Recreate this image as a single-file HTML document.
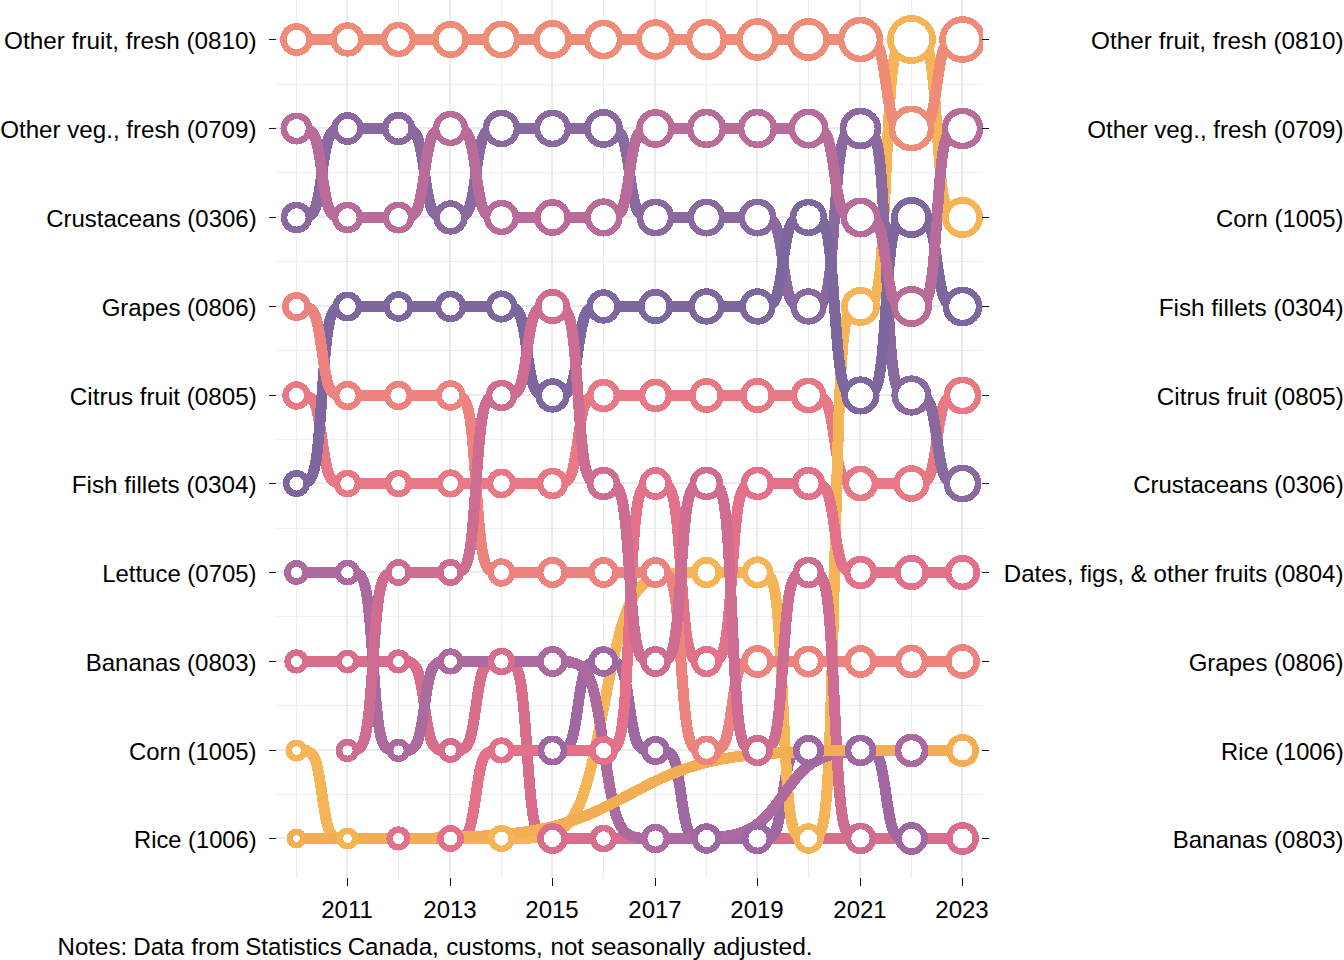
<!DOCTYPE html>
<html><head><meta charset="utf-8"><title>Bump chart</title>
<style>
html,body{margin:0;padding:0;background:#fff;}
body{width:1344px;height:960px;overflow:hidden;position:relative;font-family:"Liberation Sans",sans-serif;}
</style></head><body>
<svg width="1344" height="960" viewBox="0 0 1344 960" style="position:absolute;left:0;top:0">
<defs><clipPath id="pc"><rect x="276" y="0" width="707" height="877.7"/></clipPath></defs>
<g shape-rendering="crispEdges" fill="#ebebeb" stroke="none">
<rect x="276" y="84" width="707" height="1" fill="#eeeeee"/>
<rect x="276" y="172" width="707" height="1" fill="#eeeeee"/>
<rect x="276" y="261" width="707" height="1" fill="#eeeeee"/>
<rect x="276" y="350" width="707" height="1" fill="#eeeeee"/>
<rect x="276" y="439" width="707" height="1" fill="#eeeeee"/>
<rect x="276" y="528" width="707" height="1" fill="#eeeeee"/>
<rect x="276" y="616" width="707" height="1" fill="#eeeeee"/>
<rect x="276" y="705" width="707" height="1" fill="#eeeeee"/>
<rect x="276" y="794" width="707" height="1" fill="#eeeeee"/>
<rect x="296" y="0" width="1" height="877.7" fill="#eeeeee"/>
<rect x="398" y="0" width="1" height="877.7" fill="#eeeeee"/>
<rect x="501" y="0" width="1" height="877.7" fill="#eeeeee"/>
<rect x="603" y="0" width="1" height="877.7" fill="#eeeeee"/>
<rect x="706" y="0" width="1" height="877.7" fill="#eeeeee"/>
<rect x="808" y="0" width="1" height="877.7" fill="#eeeeee"/>
<rect x="911" y="0" width="1" height="877.7" fill="#eeeeee"/>
<rect x="276" y="38" width="707" height="2"/>
<rect x="276" y="127" width="707" height="2"/>
<rect x="276" y="216" width="707" height="2"/>
<rect x="276" y="305" width="707" height="2"/>
<rect x="276" y="394" width="707" height="2"/>
<rect x="276" y="482" width="707" height="2"/>
<rect x="276" y="571" width="707" height="2"/>
<rect x="276" y="660" width="707" height="2"/>
<rect x="276" y="749" width="707" height="2"/>
<rect x="276" y="837" width="707" height="2"/>
<rect x="346" y="0" width="2" height="877.7"/>
<rect x="449" y="0" width="2" height="877.7"/>
<rect x="551" y="0" width="2" height="877.7"/>
<rect x="654" y="0" width="2" height="877.7"/>
<rect x="756" y="0" width="2" height="877.7"/>
<rect x="859" y="0" width="2" height="877.7"/>
<rect x="961" y="0" width="2" height="877.7"/>
</g>
<g clip-path="url(#pc)" shape-rendering="crispEdges" fill="none" stroke-width="11" stroke-linejoin="round" stroke-linecap="butt">
<path stroke="#D96E8C" d="M296.50 661.50 L347.50 661.50 L398.50 661.50 L399.03 661.50 L399.55 661.50 L400.08 661.50 L400.60 661.50 L401.13 661.50 L401.65 661.50 L402.18 661.50 L402.70 661.50 L403.23 661.50 L403.75 661.50 L404.28 661.50 L404.80 661.50 L405.33 661.50 L405.85 661.50 L406.38 661.50 L406.90 661.50 L407.43 661.50 L407.95 661.50 L408.48 661.50 L409.01 661.50 L409.53 662.38 L410.06 662.53 L410.58 662.71 L411.11 662.92 L411.63 663.17 L412.16 663.45 L412.68 663.78 L413.21 664.17 L413.73 664.63 L414.26 665.15 L414.78 665.76 L415.31 666.47 L415.83 667.28 L416.36 668.22 L416.88 669.30 L417.41 670.52 L417.93 671.92 L418.46 673.50 L418.98 675.28 L419.51 677.27 L420.04 679.48 L420.56 681.91 L421.09 684.56 L421.61 687.43 L422.14 690.50 L422.66 693.74 L423.19 697.13 L423.71 700.63 L424.24 704.20 L424.76 707.80 L425.29 711.37 L425.81 714.87 L426.34 718.26 L426.86 721.50 L427.39 724.57 L427.91 727.44 L428.44 730.09 L428.96 732.52 L429.49 734.73 L430.02 736.72 L430.54 738.50 L431.07 740.08 L431.59 741.48 L432.12 742.70 L432.64 743.78 L433.17 744.72 L433.69 745.53 L434.22 746.24 L434.74 746.85 L435.27 747.37 L435.79 747.83 L436.32 748.22 L436.84 748.55 L437.37 748.83 L437.89 749.08 L438.42 749.29 L438.94 749.47 L439.47 749.62 L439.99 750.50 L440.52 750.50 L441.05 750.50 L441.57 750.50 L442.10 750.50 L442.62 750.50 L443.15 750.50 L443.67 750.50 L444.20 750.50 L444.72 750.50 L445.25 750.50 L445.77 750.50 L446.30 750.50 L446.82 750.50 L447.35 750.50 L447.87 750.50 L448.40 750.50 L448.92 750.50 L449.45 750.50 L449.97 750.50 L450.50 750.50 L451.02 750.50 L451.53 750.50 L452.05 750.50 L452.56 750.50 L453.08 750.50 L453.59 750.50 L454.11 750.50 L454.62 750.50 L455.14 750.50 L455.65 750.50 L456.17 750.50 L456.68 750.50 L457.20 750.50 L457.71 750.50 L458.23 750.50 L458.74 750.50 L459.26 750.50 L459.77 750.50 L460.29 750.50 L460.80 750.50 L461.32 749.62 L461.83 749.47 L462.35 749.29 L462.86 749.08 L463.38 748.83 L463.89 748.55 L464.41 748.22 L464.92 747.83 L465.44 747.37 L465.95 746.85 L466.47 746.24 L466.98 745.53 L467.50 744.72 L468.02 743.78 L468.53 742.70 L469.05 741.48 L469.56 740.08 L470.08 738.50 L470.59 736.72 L471.11 734.73 L471.62 732.52 L472.14 730.09 L472.65 727.44 L473.17 724.57 L473.68 721.50 L474.20 718.26 L474.71 714.87 L475.23 711.37 L475.74 707.80 L476.26 704.20 L476.77 700.63 L477.29 697.13 L477.80 693.74 L478.32 690.50 L478.83 687.43 L479.35 684.56 L479.86 681.91 L480.38 679.48 L480.89 677.27 L481.41 675.28 L481.92 673.50 L482.44 671.92 L482.95 670.52 L483.47 669.30 L483.98 668.22 L484.50 667.28 L485.02 666.47 L485.53 665.76 L486.05 665.15 L486.56 664.63 L487.08 664.17 L487.59 663.78 L488.11 663.45 L488.62 663.17 L489.14 662.92 L489.65 662.71 L490.17 662.53 L490.68 662.38 L491.20 661.50 L491.71 661.50 L492.23 661.50 L492.74 661.50 L493.26 661.50 L493.77 661.50 L494.29 661.50 L494.80 661.50 L495.32 661.50 L495.83 661.50 L496.35 661.50 L496.86 661.50 L497.38 661.50 L497.89 661.50 L498.41 661.50 L498.92 661.50 L499.44 661.50 L499.95 661.50 L500.47 661.50 L500.98 661.50 L501.50 661.50 L502.02 661.50 L502.53 661.50 L503.05 661.50 L503.56 661.50 L504.08 661.50 L504.59 661.50 L505.11 661.50 L505.62 661.50 L506.14 661.50 L506.65 661.50 L507.17 661.50 L507.68 661.50 L508.20 661.50 L508.71 661.50 L509.23 661.50 L509.74 661.50 L510.26 662.42 L510.77 662.58 L511.29 662.77 L511.80 662.99 L512.32 663.25 L512.83 663.55 L513.35 663.91 L513.86 664.33 L514.38 664.81 L514.89 665.38 L515.41 666.04 L515.92 666.82 L516.44 667.72 L516.95 668.76 L517.47 669.98 L517.98 671.38 L518.50 673.00 L519.02 674.86 L519.53 677.00 L520.05 679.45 L520.56 682.23 L521.08 685.37 L521.59 688.91 L522.11 692.87 L522.62 697.26 L523.14 702.09 L523.65 707.37 L524.17 713.07 L524.68 719.17 L525.20 725.62 L525.71 732.36 L526.23 739.32 L526.74 746.43 L527.26 753.57 L527.77 760.68 L528.29 767.64 L528.80 774.38 L529.32 780.83 L529.83 786.93 L530.35 792.63 L530.86 797.91 L531.38 802.74 L531.89 807.13 L532.41 811.09 L532.92 814.63 L533.44 817.77 L533.95 820.55 L534.47 823.00 L534.98 825.14 L535.50 827.00 L536.02 828.62 L536.53 830.02 L537.05 831.24 L537.56 832.28 L538.08 833.18 L538.59 833.96 L539.11 834.62 L539.62 835.19 L540.14 835.67 L540.65 836.09 L541.17 836.45 L541.68 836.75 L542.20 837.01 L542.71 837.23 L543.23 837.42 L543.74 837.58 L544.26 838.50 L544.77 838.50 L545.29 838.50 L545.80 838.50 L546.32 838.50 L546.83 838.50 L547.35 838.50 L547.86 838.50 L548.38 838.50 L548.89 838.50 L549.41 838.50 L549.92 838.50 L550.44 838.50 L550.95 838.50 L551.47 838.50 L551.98 838.50 L552.50 838.50 L603.50 838.50 L962.50 838.50"/>
<path stroke="#A068A2" d="M552.50 750.50 L553.02 750.50 L553.53 750.50 L554.05 750.50 L554.56 750.50 L555.08 750.50 L555.59 750.50 L556.11 750.50 L556.62 750.50 L557.14 750.50 L557.65 750.50 L558.17 750.50 L558.68 750.50 L559.20 750.50 L559.71 750.50 L560.23 750.50 L560.74 750.50 L561.26 750.50 L561.77 750.50 L562.29 750.50 L562.80 750.50 L563.32 749.62 L563.83 749.47 L564.35 749.29 L564.86 749.08 L565.38 748.83 L565.89 748.55 L566.41 748.22 L566.92 747.83 L567.44 747.37 L567.95 746.85 L568.47 746.24 L568.98 745.53 L569.50 744.72 L570.02 743.78 L570.53 742.70 L571.05 741.48 L571.56 740.08 L572.08 738.50 L572.59 736.72 L573.11 734.73 L573.62 732.52 L574.14 730.09 L574.65 727.44 L575.17 724.57 L575.68 721.50 L576.20 718.26 L576.71 714.87 L577.23 711.37 L577.74 707.80 L578.26 704.20 L578.77 700.63 L579.29 697.13 L579.80 693.74 L580.32 690.50 L580.83 687.43 L581.35 684.56 L581.86 681.91 L582.38 679.48 L582.89 677.27 L583.41 675.28 L583.92 673.50 L584.44 671.92 L584.95 670.52 L585.47 669.30 L585.98 668.22 L586.50 667.28 L587.02 666.47 L587.53 665.76 L588.05 665.15 L588.56 664.63 L589.08 664.17 L589.59 663.78 L590.11 663.45 L590.62 663.17 L591.14 662.92 L591.65 662.71 L592.17 662.53 L592.68 662.38 L593.20 661.50 L593.71 661.50 L594.23 661.50 L594.74 661.50 L595.26 661.50 L595.77 661.50 L596.29 661.50 L596.80 661.50 L597.32 661.50 L597.83 661.50 L598.35 661.50 L598.86 661.50 L599.38 661.50 L599.89 661.50 L600.41 661.50 L600.92 661.50 L601.44 661.50 L601.95 661.50 L602.47 661.50 L602.98 661.50 L603.50 661.50 L604.03 661.50 L604.55 661.50 L605.08 661.50 L605.60 661.50 L606.13 661.50 L606.65 661.50 L607.18 661.50 L607.70 661.50 L608.23 661.50 L608.75 661.50 L609.28 661.50 L609.80 661.50 L610.33 661.50 L610.85 661.50 L611.38 661.50 L611.90 661.50 L612.43 661.50 L612.95 661.50 L613.48 661.50 L614.01 661.50 L614.53 662.38 L615.06 662.53 L615.58 662.71 L616.11 662.92 L616.63 663.17 L617.16 663.45 L617.68 663.78 L618.21 664.17 L618.73 664.63 L619.26 665.15 L619.78 665.76 L620.31 666.47 L620.83 667.28 L621.36 668.22 L621.88 669.30 L622.41 670.52 L622.93 671.92 L623.46 673.50 L623.98 675.28 L624.51 677.27 L625.04 679.48 L625.56 681.91 L626.09 684.56 L626.61 687.43 L627.14 690.50 L627.66 693.74 L628.19 697.13 L628.71 700.63 L629.24 704.20 L629.76 707.80 L630.29 711.37 L630.81 714.87 L631.34 718.26 L631.86 721.50 L632.39 724.57 L632.91 727.44 L633.44 730.09 L633.96 732.52 L634.49 734.73 L635.02 736.72 L635.54 738.50 L636.07 740.08 L636.59 741.48 L637.12 742.70 L637.64 743.78 L638.17 744.72 L638.69 745.53 L639.22 746.24 L639.74 746.85 L640.27 747.37 L640.79 747.83 L641.32 748.22 L641.84 748.55 L642.37 748.83 L642.89 749.08 L643.42 749.29 L643.94 749.47 L644.47 749.62 L644.99 750.50 L645.52 750.50 L646.05 750.50 L646.57 750.50 L647.10 750.50 L647.62 750.50 L648.15 750.50 L648.67 750.50 L649.20 750.50 L649.72 750.50 L650.25 750.50 L650.77 750.50 L651.30 750.50 L651.82 750.50 L652.35 750.50 L652.87 750.50 L653.40 750.50 L653.92 750.50 L654.45 750.50 L654.97 750.50 L655.50 750.50 L656.02 750.50 L656.53 750.50 L657.05 750.50 L657.56 750.50 L658.08 750.50 L658.59 750.50 L659.11 750.50 L659.62 750.50 L660.14 750.50 L660.65 750.50 L661.17 750.50 L661.68 750.50 L662.20 750.50 L662.71 750.50 L663.23 750.50 L663.74 750.50 L664.26 750.50 L664.77 750.50 L665.29 750.50 L665.80 750.50 L666.32 751.37 L666.83 751.52 L667.35 751.70 L667.86 751.90 L668.38 752.15 L668.89 752.43 L669.41 752.76 L669.92 753.14 L670.44 753.59 L670.95 754.11 L671.47 754.71 L671.98 755.41 L672.50 756.22 L673.02 757.14 L673.53 758.21 L674.05 759.42 L674.56 760.80 L675.08 762.37 L675.59 764.13 L676.11 766.09 L676.62 768.28 L677.14 770.68 L677.65 773.30 L678.17 776.14 L678.68 779.17 L679.20 782.38 L679.71 785.73 L680.23 789.19 L680.74 792.72 L681.26 796.28 L681.77 799.81 L682.29 803.27 L682.80 806.62 L683.32 809.83 L683.83 812.86 L684.35 815.70 L684.86 818.32 L685.38 820.72 L685.89 822.91 L686.41 824.87 L686.92 826.63 L687.44 828.20 L687.95 829.58 L688.47 830.79 L688.98 831.86 L689.50 832.78 L690.02 833.59 L690.53 834.29 L691.05 834.89 L691.56 835.41 L692.08 835.86 L692.59 836.24 L693.11 836.57 L693.62 836.85 L694.14 837.10 L694.65 837.30 L695.17 837.48 L695.68 837.63 L696.20 838.50 L696.71 838.50 L697.23 838.50 L697.74 838.50 L698.26 838.50 L698.77 838.50 L699.29 838.50 L699.80 838.50 L700.32 838.50 L700.83 838.50 L701.35 838.50 L701.86 838.50 L702.38 838.50 L702.89 838.50 L703.41 838.50 L703.92 838.50 L704.44 838.50 L704.95 838.50 L705.47 838.50 L705.98 838.50 L706.50 838.50 L757.50 838.50 L758.02 838.50 L758.53 838.50 L759.05 838.50 L759.56 838.50 L760.08 838.50 L760.59 838.50 L761.11 838.50 L761.62 838.50 L762.14 838.50 L762.65 838.50 L763.17 838.50 L763.68 838.50 L764.20 838.50 L764.71 838.50 L765.23 838.50 L765.74 838.50 L766.26 838.50 L766.77 838.50 L767.29 838.50 L767.80 838.50 L768.32 837.63 L768.83 837.48 L769.35 837.30 L769.86 837.10 L770.38 836.85 L770.89 836.57 L771.41 836.24 L771.92 835.86 L772.44 835.41 L772.95 834.89 L773.47 834.29 L773.98 833.59 L774.50 832.78 L775.02 831.86 L775.53 830.79 L776.05 829.58 L776.56 828.20 L777.08 826.63 L777.59 824.87 L778.11 822.91 L778.62 820.72 L779.14 818.32 L779.65 815.70 L780.17 812.86 L780.68 809.83 L781.20 806.62 L781.71 803.27 L782.23 799.81 L782.74 796.28 L783.26 792.72 L783.77 789.19 L784.29 785.73 L784.80 782.38 L785.32 779.17 L785.83 776.14 L786.35 773.30 L786.86 770.68 L787.38 768.28 L787.89 766.09 L788.41 764.13 L788.92 762.37 L789.44 760.80 L789.95 759.42 L790.47 758.21 L790.98 757.14 L791.50 756.22 L792.02 755.41 L792.53 754.71 L793.05 754.11 L793.56 753.59 L794.08 753.14 L794.59 752.76 L795.11 752.43 L795.62 752.15 L796.14 751.90 L796.65 751.70 L797.17 751.52 L797.68 751.37 L798.20 750.50 L798.71 750.50 L799.23 750.50 L799.74 750.50 L800.26 750.50 L800.77 750.50 L801.29 750.50 L801.80 750.50 L802.32 750.50 L802.83 750.50 L803.35 750.50 L803.86 750.50 L804.38 750.50 L804.89 750.50 L805.41 750.50 L805.92 750.50 L806.44 750.50 L806.95 750.50 L807.47 750.50 L807.98 750.50 L808.50 750.50 L860.50 750.50 L861.02 750.50 L861.53 750.50 L862.05 750.50 L862.56 750.50 L863.08 750.50 L863.59 750.50 L864.11 750.50 L864.62 750.50 L865.14 750.50 L865.65 750.50 L866.17 750.50 L866.68 750.50 L867.20 750.50 L867.71 750.50 L868.23 750.50 L868.74 750.50 L869.26 750.50 L869.77 750.50 L870.29 750.50 L870.80 750.50 L871.32 751.37 L871.83 751.52 L872.35 751.70 L872.86 751.90 L873.38 752.15 L873.89 752.43 L874.41 752.76 L874.92 753.14 L875.44 753.59 L875.95 754.11 L876.47 754.71 L876.98 755.41 L877.50 756.22 L878.02 757.14 L878.53 758.21 L879.05 759.42 L879.56 760.80 L880.08 762.37 L880.59 764.13 L881.11 766.09 L881.62 768.28 L882.14 770.68 L882.65 773.30 L883.17 776.14 L883.68 779.17 L884.20 782.38 L884.71 785.73 L885.23 789.19 L885.74 792.72 L886.26 796.28 L886.77 799.81 L887.29 803.27 L887.80 806.62 L888.32 809.83 L888.83 812.86 L889.35 815.70 L889.86 818.32 L890.38 820.72 L890.89 822.91 L891.41 824.87 L891.92 826.63 L892.44 828.20 L892.95 829.58 L893.47 830.79 L893.98 831.86 L894.50 832.78 L895.02 833.59 L895.53 834.29 L896.05 834.89 L896.56 835.41 L897.08 835.86 L897.59 836.24 L898.11 836.57 L898.62 836.85 L899.14 837.10 L899.65 837.30 L900.17 837.48 L900.68 837.63 L901.20 838.50 L901.71 838.50 L902.23 838.50 L902.74 838.50 L903.26 838.50 L903.77 838.50 L904.29 838.50 L904.80 838.50 L905.32 838.50 L905.83 838.50 L906.35 838.50 L906.86 838.50 L907.38 838.50 L907.89 838.50 L908.41 838.50 L908.92 838.50 L909.44 838.50 L909.95 838.50 L910.47 838.50 L910.98 838.50 L911.50 838.50"/>
<path stroke="#E87884" d="M296.50 395.50 L297.02 395.50 L297.53 395.50 L298.05 395.50 L298.56 395.50 L299.08 395.50 L299.59 395.50 L300.11 395.50 L300.62 395.50 L301.14 395.50 L301.65 395.50 L302.17 395.50 L302.68 395.50 L303.20 395.50 L303.71 395.50 L304.23 395.50 L304.74 395.50 L305.26 395.50 L305.77 395.50 L306.29 395.50 L306.80 395.50 L307.32 396.37 L307.83 396.52 L308.35 396.70 L308.86 396.90 L309.38 397.15 L309.89 397.43 L310.41 397.76 L310.92 398.14 L311.44 398.59 L311.95 399.11 L312.47 399.71 L312.98 400.41 L313.50 401.22 L314.02 402.14 L314.53 403.21 L315.05 404.42 L315.56 405.80 L316.08 407.37 L316.59 409.13 L317.11 411.09 L317.62 413.28 L318.14 415.68 L318.65 418.30 L319.17 421.14 L319.68 424.17 L320.20 427.38 L320.71 430.73 L321.23 434.19 L321.74 437.72 L322.26 441.28 L322.77 444.81 L323.29 448.27 L323.80 451.62 L324.32 454.83 L324.83 457.86 L325.35 460.70 L325.86 463.32 L326.38 465.72 L326.89 467.91 L327.41 469.87 L327.92 471.63 L328.44 473.20 L328.95 474.58 L329.47 475.79 L329.98 476.86 L330.50 477.78 L331.02 478.59 L331.53 479.29 L332.05 479.89 L332.56 480.41 L333.08 480.86 L333.59 481.24 L334.11 481.57 L334.62 481.85 L335.14 482.10 L335.65 482.30 L336.17 482.48 L336.68 482.63 L337.20 483.50 L337.71 483.50 L338.23 483.50 L338.74 483.50 L339.26 483.50 L339.77 483.50 L340.29 483.50 L340.80 483.50 L341.32 483.50 L341.83 483.50 L342.35 483.50 L342.86 483.50 L343.38 483.50 L343.89 483.50 L344.41 483.50 L344.92 483.50 L345.44 483.50 L345.95 483.50 L346.47 483.50 L346.98 483.50 L347.50 483.50 L398.50 483.50 L450.50 483.50 L501.50 483.50 L552.50 483.50 L553.02 483.50 L553.53 483.50 L554.05 483.50 L554.56 483.50 L555.08 483.50 L555.59 483.50 L556.11 483.50 L556.62 483.50 L557.14 483.50 L557.65 483.50 L558.17 483.50 L558.68 483.50 L559.20 483.50 L559.71 483.50 L560.23 483.50 L560.74 483.50 L561.26 483.50 L561.77 483.50 L562.29 483.50 L562.80 483.50 L563.32 482.63 L563.83 482.48 L564.35 482.30 L564.86 482.10 L565.38 481.85 L565.89 481.57 L566.41 481.24 L566.92 480.86 L567.44 480.41 L567.95 479.89 L568.47 479.29 L568.98 478.59 L569.50 477.78 L570.02 476.86 L570.53 475.79 L571.05 474.58 L571.56 473.20 L572.08 471.63 L572.59 469.87 L573.11 467.91 L573.62 465.72 L574.14 463.32 L574.65 460.70 L575.17 457.86 L575.68 454.83 L576.20 451.62 L576.71 448.27 L577.23 444.81 L577.74 441.28 L578.26 437.72 L578.77 434.19 L579.29 430.73 L579.80 427.38 L580.32 424.17 L580.83 421.14 L581.35 418.30 L581.86 415.68 L582.38 413.28 L582.89 411.09 L583.41 409.13 L583.92 407.37 L584.44 405.80 L584.95 404.42 L585.47 403.21 L585.98 402.14 L586.50 401.22 L587.02 400.41 L587.53 399.71 L588.05 399.11 L588.56 398.59 L589.08 398.14 L589.59 397.76 L590.11 397.43 L590.62 397.15 L591.14 396.90 L591.65 396.70 L592.17 396.52 L592.68 396.37 L593.20 395.50 L593.71 395.50 L594.23 395.50 L594.74 395.50 L595.26 395.50 L595.77 395.50 L596.29 395.50 L596.80 395.50 L597.32 395.50 L597.83 395.50 L598.35 395.50 L598.86 395.50 L599.38 395.50 L599.89 395.50 L600.41 395.50 L600.92 395.50 L601.44 395.50 L601.95 395.50 L602.47 395.50 L602.98 395.50 L603.50 395.50 L655.50 395.50 L706.50 395.50 L757.50 395.50 L808.50 395.50 L809.03 395.50 L809.55 395.50 L810.08 395.50 L810.60 395.50 L811.13 395.50 L811.65 395.50 L812.18 395.50 L812.70 395.50 L813.23 395.50 L813.75 395.50 L814.28 395.50 L814.80 395.50 L815.33 395.50 L815.85 395.50 L816.38 395.50 L816.90 395.50 L817.43 395.50 L817.95 395.50 L818.48 395.50 L819.01 395.50 L819.53 396.37 L820.06 396.52 L820.58 396.70 L821.11 396.90 L821.63 397.15 L822.16 397.43 L822.68 397.76 L823.21 398.14 L823.73 398.59 L824.26 399.11 L824.78 399.71 L825.31 400.41 L825.83 401.22 L826.36 402.14 L826.88 403.21 L827.41 404.42 L827.93 405.80 L828.46 407.37 L828.98 409.13 L829.51 411.09 L830.04 413.28 L830.56 415.68 L831.09 418.30 L831.61 421.14 L832.14 424.17 L832.66 427.38 L833.19 430.73 L833.71 434.19 L834.24 437.72 L834.76 441.28 L835.29 444.81 L835.81 448.27 L836.34 451.62 L836.86 454.83 L837.39 457.86 L837.91 460.70 L838.44 463.32 L838.96 465.72 L839.49 467.91 L840.02 469.87 L840.54 471.63 L841.07 473.20 L841.59 474.58 L842.12 475.79 L842.64 476.86 L843.17 477.78 L843.69 478.59 L844.22 479.29 L844.74 479.89 L845.27 480.41 L845.79 480.86 L846.32 481.24 L846.84 481.57 L847.37 481.85 L847.89 482.10 L848.42 482.30 L848.94 482.48 L849.47 482.63 L849.99 483.50 L850.52 483.50 L851.05 483.50 L851.57 483.50 L852.10 483.50 L852.62 483.50 L853.15 483.50 L853.67 483.50 L854.20 483.50 L854.72 483.50 L855.25 483.50 L855.77 483.50 L856.30 483.50 L856.82 483.50 L857.35 483.50 L857.87 483.50 L858.40 483.50 L858.92 483.50 L859.45 483.50 L859.97 483.50 L860.50 483.50 L911.50 483.50 L912.02 483.50 L912.53 483.50 L913.05 483.50 L913.56 483.50 L914.08 483.50 L914.59 483.50 L915.11 483.50 L915.62 483.50 L916.14 483.50 L916.65 483.50 L917.17 483.50 L917.68 483.50 L918.20 483.50 L918.71 483.50 L919.23 483.50 L919.74 483.50 L920.26 483.50 L920.77 483.50 L921.29 483.50 L921.80 483.50 L922.32 482.63 L922.83 482.48 L923.35 482.30 L923.86 482.10 L924.38 481.85 L924.89 481.57 L925.41 481.24 L925.92 480.86 L926.44 480.41 L926.95 479.89 L927.47 479.29 L927.98 478.59 L928.50 477.78 L929.02 476.86 L929.53 475.79 L930.05 474.58 L930.56 473.20 L931.08 471.63 L931.59 469.87 L932.11 467.91 L932.62 465.72 L933.14 463.32 L933.65 460.70 L934.17 457.86 L934.68 454.83 L935.20 451.62 L935.71 448.27 L936.23 444.81 L936.74 441.28 L937.26 437.72 L937.77 434.19 L938.29 430.73 L938.80 427.38 L939.32 424.17 L939.83 421.14 L940.35 418.30 L940.86 415.68 L941.38 413.28 L941.89 411.09 L942.41 409.13 L942.92 407.37 L943.44 405.80 L943.95 404.42 L944.47 403.21 L944.98 402.14 L945.50 401.22 L946.02 400.41 L946.53 399.71 L947.05 399.11 L947.56 398.59 L948.08 398.14 L948.59 397.76 L949.11 397.43 L949.62 397.15 L950.14 396.90 L950.65 396.70 L951.17 396.52 L951.68 396.37 L952.20 395.50 L952.71 395.50 L953.23 395.50 L953.74 395.50 L954.26 395.50 L954.77 395.50 L955.29 395.50 L955.80 395.50 L956.32 395.50 L956.83 395.50 L957.35 395.50 L957.86 395.50 L958.38 395.50 L958.89 395.50 L959.41 395.50 L959.92 395.50 L960.44 395.50 L960.95 395.50 L961.47 395.50 L961.98 395.50 L962.50 395.50"/>
<path stroke="#F5B455" d="M296.50 750.50 L297.02 750.50 L297.53 750.50 L298.05 750.50 L298.56 750.50 L299.08 750.50 L299.59 750.50 L300.11 750.50 L300.62 750.50 L301.14 750.50 L301.65 750.50 L302.17 750.50 L302.68 750.50 L303.20 750.50 L303.71 750.50 L304.23 750.50 L304.74 750.50 L305.26 750.50 L305.77 750.50 L306.29 750.50 L306.80 750.50 L307.32 751.37 L307.83 751.52 L308.35 751.70 L308.86 751.90 L309.38 752.15 L309.89 752.43 L310.41 752.76 L310.92 753.14 L311.44 753.59 L311.95 754.11 L312.47 754.71 L312.98 755.41 L313.50 756.22 L314.02 757.14 L314.53 758.21 L315.05 759.42 L315.56 760.80 L316.08 762.37 L316.59 764.13 L317.11 766.09 L317.62 768.28 L318.14 770.68 L318.65 773.30 L319.17 776.14 L319.68 779.17 L320.20 782.38 L320.71 785.73 L321.23 789.19 L321.74 792.72 L322.26 796.28 L322.77 799.81 L323.29 803.27 L323.80 806.62 L324.32 809.83 L324.83 812.86 L325.35 815.70 L325.86 818.32 L326.38 820.72 L326.89 822.91 L327.41 824.87 L327.92 826.63 L328.44 828.20 L328.95 829.58 L329.47 830.79 L329.98 831.86 L330.50 832.78 L331.02 833.59 L331.53 834.29 L332.05 834.89 L332.56 835.41 L333.08 835.86 L333.59 836.24 L334.11 836.57 L334.62 836.85 L335.14 837.10 L335.65 837.30 L336.17 837.48 L336.68 837.63 L337.20 838.50 L337.71 838.50 L338.23 838.50 L338.74 838.50 L339.26 838.50 L339.77 838.50 L340.29 838.50 L340.80 838.50 L341.32 838.50 L341.83 838.50 L342.35 838.50 L342.86 838.50 L343.38 838.50 L343.89 838.50 L344.41 838.50 L344.92 838.50 L345.44 838.50 L345.95 838.50 L346.47 838.50 L346.98 838.50 L347.50 838.50 L501.50 838.50 L502.53 838.50 L503.56 838.50 L504.59 838.50 L505.62 838.50 L506.65 838.50 L507.68 838.50 L508.71 838.50 L509.74 838.50 L510.77 838.50 L511.80 838.50 L512.83 838.50 L513.86 838.50 L514.89 838.50 L515.92 838.50 L516.95 838.50 L517.98 838.50 L519.01 838.50 L520.04 838.50 L521.07 838.50 L522.10 838.50 L523.13 838.50 L524.16 838.50 L525.19 838.50 L526.22 838.50 L527.25 838.50 L528.28 838.50 L529.31 838.50 L530.34 837.66 L531.37 837.58 L532.40 837.51 L533.43 837.43 L534.46 837.34 L535.49 837.24 L536.53 837.13 L537.56 837.02 L538.59 836.90 L539.62 836.76 L540.65 836.62 L541.68 836.46 L542.71 836.29 L543.74 836.11 L544.77 835.91 L545.80 835.70 L546.83 835.47 L547.86 835.22 L548.89 834.94 L549.92 834.65 L550.95 834.33 L551.98 833.99 L553.01 833.62 L554.04 833.22 L555.07 832.79 L556.10 832.32 L557.13 831.82 L558.16 831.27 L559.19 830.68 L560.22 830.05 L561.25 829.37 L562.28 828.63 L563.31 827.84 L564.34 826.98 L565.37 826.06 L566.40 825.08 L567.43 824.01 L568.46 822.87 L569.49 821.65 L570.52 820.33 L571.55 818.92 L572.58 817.41 L573.61 815.80 L574.64 814.07 L575.67 812.23 L576.70 810.26 L577.73 808.17 L578.76 805.94 L579.79 803.57 L580.82 801.06 L581.85 798.40 L582.88 795.58 L583.91 792.61 L584.94 789.47 L585.97 786.18 L587.00 782.72 L588.03 779.09 L589.06 775.30 L590.09 771.34 L591.12 767.22 L592.15 762.95 L593.18 758.53 L594.21 753.96 L595.24 749.26 L596.27 744.43 L597.30 739.48 L598.33 734.44 L599.36 729.30 L600.39 724.09 L601.42 718.82 L602.45 713.51 L603.48 708.17 L604.52 702.83 L605.55 697.49 L606.58 692.18 L607.61 686.91 L608.64 681.70 L609.67 676.56 L610.70 671.52 L611.73 666.57 L612.76 661.74 L613.79 657.04 L614.82 652.47 L615.85 648.05 L616.88 643.78 L617.91 639.66 L618.94 635.70 L619.97 631.91 L621.00 628.28 L622.03 624.82 L623.06 621.53 L624.09 618.39 L625.12 615.42 L626.15 612.60 L627.18 609.94 L628.21 607.43 L629.24 605.06 L630.27 602.83 L631.30 600.74 L632.33 598.77 L633.36 596.93 L634.39 595.20 L635.42 593.59 L636.45 592.08 L637.48 590.67 L638.51 589.35 L639.54 588.13 L640.57 586.99 L641.60 585.92 L642.63 584.94 L643.66 584.02 L644.69 583.16 L645.72 582.37 L646.75 581.63 L647.78 580.95 L648.81 580.32 L649.84 579.73 L650.87 579.18 L651.90 578.68 L652.93 578.21 L653.96 577.78 L654.99 577.38 L656.02 577.01 L657.05 576.67 L658.08 576.35 L659.11 576.06 L660.14 575.78 L661.17 575.53 L662.20 575.30 L663.23 575.09 L664.26 574.89 L665.29 574.71 L666.32 574.54 L667.35 574.38 L668.38 574.24 L669.41 574.10 L670.44 573.98 L671.47 573.87 L672.51 573.76 L673.54 573.66 L674.57 573.57 L675.60 573.49 L676.63 573.42 L677.66 573.34 L678.69 572.50 L679.72 572.50 L680.75 572.50 L681.78 572.50 L682.81 572.50 L683.84 572.50 L684.87 572.50 L685.90 572.50 L686.93 572.50 L687.96 572.50 L688.99 572.50 L690.02 572.50 L691.05 572.50 L692.08 572.50 L693.11 572.50 L694.14 572.50 L695.17 572.50 L696.20 572.50 L697.23 572.50 L698.26 572.50 L699.29 572.50 L700.32 572.50 L701.35 572.50 L702.38 572.50 L703.41 572.50 L704.44 572.50 L705.47 572.50 L706.50 572.50 L757.50 572.50 L758.02 572.50 L758.53 572.50 L759.05 572.50 L759.56 572.50 L760.08 572.50 L760.59 572.50 L761.11 572.50 L761.62 572.50 L762.14 572.50 L762.65 572.50 L763.17 572.50 L763.68 572.50 L764.20 572.50 L764.71 573.35 L765.23 573.50 L765.74 573.68 L766.26 573.89 L766.77 574.13 L767.29 574.41 L767.80 574.74 L768.32 575.13 L768.83 575.59 L769.35 576.12 L769.86 576.75 L770.38 577.48 L770.89 578.33 L771.41 579.33 L771.92 580.49 L772.44 581.84 L772.95 583.41 L773.47 585.24 L773.98 587.35 L774.50 589.78 L775.02 592.58 L775.53 595.80 L776.05 599.47 L776.56 603.65 L777.08 608.37 L777.59 613.69 L778.11 619.64 L778.62 626.24 L779.14 633.50 L779.65 641.43 L780.17 650.00 L780.68 659.16 L781.20 668.86 L781.71 678.99 L782.23 689.46 L782.74 700.13 L783.26 710.87 L783.77 721.54 L784.29 732.01 L784.80 742.14 L785.32 751.84 L785.83 761.00 L786.35 769.57 L786.86 777.50 L787.38 784.76 L787.89 791.36 L788.41 797.31 L788.92 802.63 L789.44 807.35 L789.95 811.53 L790.47 815.20 L790.98 818.42 L791.50 821.22 L792.02 823.65 L792.53 825.76 L793.05 827.59 L793.56 829.16 L794.08 830.51 L794.59 831.67 L795.11 832.67 L795.62 833.52 L796.14 834.25 L796.65 834.88 L797.17 835.41 L797.68 835.87 L798.20 836.26 L798.71 836.59 L799.23 836.87 L799.74 837.11 L800.26 837.32 L800.77 837.50 L801.29 837.65 L801.80 838.50 L802.32 838.50 L802.83 838.50 L803.35 838.50 L803.86 838.50 L804.38 838.50 L804.89 838.50 L805.41 838.50 L805.92 838.50 L806.44 838.50 L806.95 838.50 L807.47 838.50 L807.98 838.50 L808.50 838.50 L809.03 838.50 L809.55 838.50 L810.08 838.50 L810.60 838.50 L811.13 838.50 L811.65 838.50 L812.18 838.50 L812.70 838.50 L813.23 838.50 L813.75 837.60 L814.28 837.45 L814.80 837.26 L815.33 837.05 L815.85 836.79 L816.38 836.49 L816.90 836.14 L817.43 835.73 L817.95 835.25 L818.48 834.68 L819.01 834.02 L819.53 833.24 L820.06 832.32 L820.58 831.26 L821.11 830.01 L821.63 828.54 L822.16 826.84 L822.68 824.84 L823.21 822.52 L823.73 819.81 L824.26 816.67 L824.78 813.03 L825.31 808.81 L825.83 803.94 L826.36 798.33 L826.88 791.90 L827.41 784.56 L827.93 776.20 L828.46 766.75 L828.98 756.11 L829.51 744.22 L830.04 731.03 L830.56 716.50 L831.09 700.64 L831.61 683.51 L832.14 665.18 L832.66 645.79 L833.19 625.52 L833.71 604.59 L834.24 583.24 L834.76 561.76 L835.29 540.41 L835.81 519.48 L836.34 499.21 L836.86 479.82 L837.39 461.49 L837.91 444.36 L838.44 428.50 L838.96 413.97 L839.49 400.78 L840.02 388.89 L840.54 378.25 L841.07 368.80 L841.59 360.44 L842.12 353.10 L842.64 346.67 L843.17 341.06 L843.69 336.19 L844.22 331.97 L844.74 328.33 L845.27 325.19 L845.79 322.48 L846.32 320.16 L846.84 318.16 L847.37 316.46 L847.89 314.99 L848.42 313.74 L848.94 312.68 L849.47 311.76 L849.99 310.98 L850.52 310.32 L851.05 309.75 L851.57 309.27 L852.10 308.86 L852.62 308.51 L853.15 308.21 L853.67 307.95 L854.20 307.74 L854.72 307.55 L855.25 307.40 L855.77 306.50 L856.30 306.50 L856.82 306.50 L857.35 306.50 L857.87 306.50 L858.40 306.50 L858.92 306.50 L859.45 306.50 L859.97 306.50 L860.50 306.50 L861.02 306.50 L861.53 306.50 L862.05 306.50 L862.56 306.50 L863.08 306.50 L863.59 306.50 L864.11 306.50 L864.62 306.50 L865.14 306.50 L865.65 306.50 L866.17 306.50 L866.68 306.50 L867.20 306.50 L867.71 305.64 L868.23 305.49 L868.74 305.32 L869.26 305.11 L869.77 304.87 L870.29 304.58 L870.80 304.25 L871.32 303.86 L871.83 303.40 L872.35 302.86 L872.86 302.24 L873.38 301.50 L873.89 300.65 L874.41 299.65 L874.92 298.48 L875.44 297.12 L875.95 295.54 L876.47 293.71 L876.98 291.60 L877.50 289.15 L878.02 286.34 L878.53 283.11 L879.05 279.43 L879.56 275.23 L880.08 270.49 L880.59 265.15 L881.11 259.18 L881.62 252.56 L882.14 245.27 L882.65 237.31 L883.17 228.71 L883.68 219.51 L884.20 209.78 L884.71 199.61 L885.23 189.10 L885.74 178.39 L886.26 167.61 L886.77 156.90 L887.29 146.39 L887.80 136.22 L888.32 126.49 L888.83 117.29 L889.35 108.69 L889.86 100.73 L890.38 93.44 L890.89 86.82 L891.41 80.85 L891.92 75.51 L892.44 70.77 L892.95 66.57 L893.47 62.89 L893.98 59.66 L894.50 56.85 L895.02 54.40 L895.53 52.29 L896.05 50.46 L896.56 48.88 L897.08 47.52 L897.59 46.35 L898.11 45.35 L898.62 44.50 L899.14 43.76 L899.65 43.14 L900.17 42.60 L900.68 42.14 L901.20 41.75 L901.71 41.42 L902.23 41.13 L902.74 40.89 L903.26 40.68 L903.77 40.51 L904.29 40.36 L904.80 39.50 L905.32 39.50 L905.83 39.50 L906.35 39.50 L906.86 39.50 L907.38 39.50 L907.89 39.50 L908.41 39.50 L908.92 39.50 L909.44 39.50 L909.95 39.50 L910.47 39.50 L910.98 39.50 L911.50 39.50 L912.02 39.50 L912.53 39.50 L913.05 39.50 L913.56 39.50 L914.08 39.50 L914.59 39.50 L915.11 39.50 L915.62 39.50 L916.14 39.50 L916.65 39.50 L917.17 39.50 L917.68 39.50 L918.20 39.50 L918.71 39.50 L919.23 39.50 L919.74 39.50 L920.26 40.43 L920.77 40.59 L921.29 40.78 L921.80 41.00 L922.32 41.26 L922.83 41.57 L923.35 41.92 L923.86 42.34 L924.38 42.83 L924.89 43.40 L925.41 44.07 L925.92 44.85 L926.44 45.75 L926.95 46.80 L927.47 48.02 L927.98 49.44 L928.50 51.06 L929.02 52.94 L929.53 55.09 L930.05 57.55 L930.56 60.34 L931.08 63.51 L931.59 67.07 L932.11 71.04 L932.62 75.46 L933.14 80.32 L933.65 85.62 L934.17 91.36 L934.68 97.49 L935.20 103.98 L935.71 110.76 L936.23 117.76 L936.74 124.91 L937.26 132.09 L937.77 139.24 L938.29 146.24 L938.80 153.02 L939.32 159.51 L939.83 165.64 L940.35 171.38 L940.86 176.68 L941.38 181.54 L941.89 185.96 L942.41 189.93 L942.92 193.49 L943.44 196.66 L943.95 199.45 L944.47 201.91 L944.98 204.06 L945.50 205.94 L946.02 207.56 L946.53 208.98 L947.05 210.20 L947.56 211.25 L948.08 212.15 L948.59 212.93 L949.11 213.60 L949.62 214.17 L950.14 214.66 L950.65 215.08 L951.17 215.43 L951.68 215.74 L952.20 216.00 L952.71 216.22 L953.23 216.41 L953.74 216.57 L954.26 217.50 L954.77 217.50 L955.29 217.50 L955.80 217.50 L956.32 217.50 L956.83 217.50 L957.35 217.50 L957.86 217.50 L958.38 217.50 L958.89 217.50 L959.41 217.50 L959.92 217.50 L960.44 217.50 L960.95 217.50 L961.47 217.50 L961.98 217.50 L962.50 217.50"/>
<path stroke="#8A69A1" d="M296.50 217.50 L297.02 217.50 L297.53 217.50 L298.05 217.50 L298.56 217.50 L299.08 217.50 L299.59 217.50 L300.11 217.50 L300.62 217.50 L301.14 217.50 L301.65 217.50 L302.17 217.50 L302.68 217.50 L303.20 217.50 L303.71 217.50 L304.23 217.50 L304.74 217.50 L305.26 217.50 L305.77 217.50 L306.29 217.50 L306.80 217.50 L307.32 216.62 L307.83 216.47 L308.35 216.29 L308.86 216.08 L309.38 215.83 L309.89 215.55 L310.41 215.22 L310.92 214.83 L311.44 214.37 L311.95 213.85 L312.47 213.24 L312.98 212.53 L313.50 211.72 L314.02 210.78 L314.53 209.70 L315.05 208.48 L315.56 207.08 L316.08 205.50 L316.59 203.72 L317.11 201.73 L317.62 199.52 L318.14 197.09 L318.65 194.44 L319.17 191.57 L319.68 188.50 L320.20 185.26 L320.71 181.87 L321.23 178.37 L321.74 174.80 L322.26 171.20 L322.77 167.63 L323.29 164.13 L323.80 160.74 L324.32 157.50 L324.83 154.43 L325.35 151.56 L325.86 148.91 L326.38 146.48 L326.89 144.27 L327.41 142.28 L327.92 140.50 L328.44 138.92 L328.95 137.52 L329.47 136.30 L329.98 135.22 L330.50 134.28 L331.02 133.47 L331.53 132.76 L332.05 132.15 L332.56 131.63 L333.08 131.17 L333.59 130.78 L334.11 130.45 L334.62 130.17 L335.14 129.92 L335.65 129.71 L336.17 129.53 L336.68 129.38 L337.20 128.50 L337.71 128.50 L338.23 128.50 L338.74 128.50 L339.26 128.50 L339.77 128.50 L340.29 128.50 L340.80 128.50 L341.32 128.50 L341.83 128.50 L342.35 128.50 L342.86 128.50 L343.38 128.50 L343.89 128.50 L344.41 128.50 L344.92 128.50 L345.44 128.50 L345.95 128.50 L346.47 128.50 L346.98 128.50 L347.50 128.50 L398.50 128.50 L399.03 128.50 L399.55 128.50 L400.08 128.50 L400.60 128.50 L401.13 128.50 L401.65 128.50 L402.18 128.50 L402.70 128.50 L403.23 128.50 L403.75 128.50 L404.28 128.50 L404.80 128.50 L405.33 128.50 L405.85 128.50 L406.38 128.50 L406.90 128.50 L407.43 128.50 L407.95 128.50 L408.48 128.50 L409.01 128.50 L409.53 129.38 L410.06 129.53 L410.58 129.71 L411.11 129.92 L411.63 130.17 L412.16 130.45 L412.68 130.78 L413.21 131.17 L413.73 131.63 L414.26 132.15 L414.78 132.76 L415.31 133.47 L415.83 134.28 L416.36 135.22 L416.88 136.30 L417.41 137.52 L417.93 138.92 L418.46 140.50 L418.98 142.28 L419.51 144.27 L420.04 146.48 L420.56 148.91 L421.09 151.56 L421.61 154.43 L422.14 157.50 L422.66 160.74 L423.19 164.13 L423.71 167.63 L424.24 171.20 L424.76 174.80 L425.29 178.37 L425.81 181.87 L426.34 185.26 L426.86 188.50 L427.39 191.57 L427.91 194.44 L428.44 197.09 L428.96 199.52 L429.49 201.73 L430.02 203.72 L430.54 205.50 L431.07 207.08 L431.59 208.48 L432.12 209.70 L432.64 210.78 L433.17 211.72 L433.69 212.53 L434.22 213.24 L434.74 213.85 L435.27 214.37 L435.79 214.83 L436.32 215.22 L436.84 215.55 L437.37 215.83 L437.89 216.08 L438.42 216.29 L438.94 216.47 L439.47 216.62 L439.99 217.50 L440.52 217.50 L441.05 217.50 L441.57 217.50 L442.10 217.50 L442.62 217.50 L443.15 217.50 L443.67 217.50 L444.20 217.50 L444.72 217.50 L445.25 217.50 L445.77 217.50 L446.30 217.50 L446.82 217.50 L447.35 217.50 L447.87 217.50 L448.40 217.50 L448.92 217.50 L449.45 217.50 L449.97 217.50 L450.50 217.50 L451.02 217.50 L451.53 217.50 L452.05 217.50 L452.56 217.50 L453.08 217.50 L453.59 217.50 L454.11 217.50 L454.62 217.50 L455.14 217.50 L455.65 217.50 L456.17 217.50 L456.68 217.50 L457.20 217.50 L457.71 217.50 L458.23 217.50 L458.74 217.50 L459.26 217.50 L459.77 217.50 L460.29 217.50 L460.80 217.50 L461.32 216.62 L461.83 216.47 L462.35 216.29 L462.86 216.08 L463.38 215.83 L463.89 215.55 L464.41 215.22 L464.92 214.83 L465.44 214.37 L465.95 213.85 L466.47 213.24 L466.98 212.53 L467.50 211.72 L468.02 210.78 L468.53 209.70 L469.05 208.48 L469.56 207.08 L470.08 205.50 L470.59 203.72 L471.11 201.73 L471.62 199.52 L472.14 197.09 L472.65 194.44 L473.17 191.57 L473.68 188.50 L474.20 185.26 L474.71 181.87 L475.23 178.37 L475.74 174.80 L476.26 171.20 L476.77 167.63 L477.29 164.13 L477.80 160.74 L478.32 157.50 L478.83 154.43 L479.35 151.56 L479.86 148.91 L480.38 146.48 L480.89 144.27 L481.41 142.28 L481.92 140.50 L482.44 138.92 L482.95 137.52 L483.47 136.30 L483.98 135.22 L484.50 134.28 L485.02 133.47 L485.53 132.76 L486.05 132.15 L486.56 131.63 L487.08 131.17 L487.59 130.78 L488.11 130.45 L488.62 130.17 L489.14 129.92 L489.65 129.71 L490.17 129.53 L490.68 129.38 L491.20 128.50 L491.71 128.50 L492.23 128.50 L492.74 128.50 L493.26 128.50 L493.77 128.50 L494.29 128.50 L494.80 128.50 L495.32 128.50 L495.83 128.50 L496.35 128.50 L496.86 128.50 L497.38 128.50 L497.89 128.50 L498.41 128.50 L498.92 128.50 L499.44 128.50 L499.95 128.50 L500.47 128.50 L500.98 128.50 L501.50 128.50 L552.50 128.50 L603.50 128.50 L604.03 128.50 L604.55 128.50 L605.08 128.50 L605.60 128.50 L606.13 128.50 L606.65 128.50 L607.18 128.50 L607.70 128.50 L608.23 128.50 L608.75 128.50 L609.28 128.50 L609.80 128.50 L610.33 128.50 L610.85 128.50 L611.38 128.50 L611.90 128.50 L612.43 128.50 L612.95 128.50 L613.48 128.50 L614.01 128.50 L614.53 129.38 L615.06 129.53 L615.58 129.71 L616.11 129.92 L616.63 130.17 L617.16 130.45 L617.68 130.78 L618.21 131.17 L618.73 131.63 L619.26 132.15 L619.78 132.76 L620.31 133.47 L620.83 134.28 L621.36 135.22 L621.88 136.30 L622.41 137.52 L622.93 138.92 L623.46 140.50 L623.98 142.28 L624.51 144.27 L625.04 146.48 L625.56 148.91 L626.09 151.56 L626.61 154.43 L627.14 157.50 L627.66 160.74 L628.19 164.13 L628.71 167.63 L629.24 171.20 L629.76 174.80 L630.29 178.37 L630.81 181.87 L631.34 185.26 L631.86 188.50 L632.39 191.57 L632.91 194.44 L633.44 197.09 L633.96 199.52 L634.49 201.73 L635.02 203.72 L635.54 205.50 L636.07 207.08 L636.59 208.48 L637.12 209.70 L637.64 210.78 L638.17 211.72 L638.69 212.53 L639.22 213.24 L639.74 213.85 L640.27 214.37 L640.79 214.83 L641.32 215.22 L641.84 215.55 L642.37 215.83 L642.89 216.08 L643.42 216.29 L643.94 216.47 L644.47 216.62 L644.99 217.50 L645.52 217.50 L646.05 217.50 L646.57 217.50 L647.10 217.50 L647.62 217.50 L648.15 217.50 L648.67 217.50 L649.20 217.50 L649.72 217.50 L650.25 217.50 L650.77 217.50 L651.30 217.50 L651.82 217.50 L652.35 217.50 L652.87 217.50 L653.40 217.50 L653.92 217.50 L654.45 217.50 L654.97 217.50 L655.50 217.50 L706.50 217.50 L757.50 217.50 L758.02 217.50 L758.53 217.50 L759.05 217.50 L759.56 217.50 L760.08 217.50 L760.59 217.50 L761.11 217.50 L761.62 217.50 L762.14 217.50 L762.65 217.50 L763.17 217.50 L763.68 217.50 L764.20 217.50 L764.71 217.50 L765.23 217.50 L765.74 217.50 L766.26 217.50 L766.77 217.50 L767.29 217.50 L767.80 217.50 L768.32 218.38 L768.83 218.53 L769.35 218.71 L769.86 218.92 L770.38 219.17 L770.89 219.45 L771.41 219.78 L771.92 220.17 L772.44 220.63 L772.95 221.15 L773.47 221.76 L773.98 222.47 L774.50 223.28 L775.02 224.22 L775.53 225.30 L776.05 226.52 L776.56 227.92 L777.08 229.50 L777.59 231.28 L778.11 233.27 L778.62 235.48 L779.14 237.91 L779.65 240.56 L780.17 243.43 L780.68 246.50 L781.20 249.74 L781.71 253.13 L782.23 256.63 L782.74 260.20 L783.26 263.80 L783.77 267.37 L784.29 270.87 L784.80 274.26 L785.32 277.50 L785.83 280.57 L786.35 283.44 L786.86 286.09 L787.38 288.52 L787.89 290.73 L788.41 292.72 L788.92 294.50 L789.44 296.08 L789.95 297.48 L790.47 298.70 L790.98 299.78 L791.50 300.72 L792.02 301.53 L792.53 302.24 L793.05 302.85 L793.56 303.37 L794.08 303.83 L794.59 304.22 L795.11 304.55 L795.62 304.83 L796.14 305.08 L796.65 305.29 L797.17 305.47 L797.68 305.62 L798.20 306.50 L798.71 306.50 L799.23 306.50 L799.74 306.50 L800.26 306.50 L800.77 306.50 L801.29 306.50 L801.80 306.50 L802.32 306.50 L802.83 306.50 L803.35 306.50 L803.86 306.50 L804.38 306.50 L804.89 306.50 L805.41 306.50 L805.92 306.50 L806.44 306.50 L806.95 306.50 L807.47 306.50 L807.98 306.50 L808.50 306.50 L809.03 306.50 L809.55 306.50 L810.08 306.50 L810.60 306.50 L811.13 306.50 L811.65 306.50 L812.18 306.50 L812.70 306.50 L813.23 306.50 L813.75 306.50 L814.28 306.50 L814.80 306.50 L815.33 306.50 L815.85 306.50 L816.38 306.50 L816.90 306.50 L817.43 305.57 L817.95 305.41 L818.48 305.22 L819.01 305.00 L819.53 304.74 L820.06 304.43 L820.58 304.08 L821.11 303.66 L821.63 303.17 L822.16 302.60 L822.68 301.93 L823.21 301.15 L823.73 300.25 L824.26 299.20 L824.78 297.98 L825.31 296.56 L825.83 294.94 L826.36 293.06 L826.88 290.91 L827.41 288.45 L827.93 285.66 L828.46 282.49 L828.98 278.93 L829.51 274.96 L830.04 270.54 L830.56 265.68 L831.09 260.38 L831.61 254.64 L832.14 248.51 L832.66 242.02 L833.19 235.24 L833.71 228.24 L834.24 221.09 L834.76 213.91 L835.29 206.76 L835.81 199.76 L836.34 192.98 L836.86 186.49 L837.39 180.36 L837.91 174.62 L838.44 169.32 L838.96 164.46 L839.49 160.04 L840.02 156.07 L840.54 152.51 L841.07 149.34 L841.59 146.55 L842.12 144.09 L842.64 141.94 L843.17 140.06 L843.69 138.44 L844.22 137.02 L844.74 135.80 L845.27 134.75 L845.79 133.85 L846.32 133.07 L846.84 132.40 L847.37 131.83 L847.89 131.34 L848.42 130.92 L848.94 130.57 L849.47 130.26 L849.99 130.00 L850.52 129.78 L851.05 129.59 L851.57 129.43 L852.10 128.50 L852.62 128.50 L853.15 128.50 L853.67 128.50 L854.20 128.50 L854.72 128.50 L855.25 128.50 L855.77 128.50 L856.30 128.50 L856.82 128.50 L857.35 128.50 L857.87 128.50 L858.40 128.50 L858.92 128.50 L859.45 128.50 L859.97 128.50 L860.50 128.50 L861.02 128.50 L861.53 128.50 L862.05 128.50 L862.56 128.50 L863.08 128.50 L863.59 128.50 L864.11 128.50 L864.62 128.50 L865.14 128.50 L865.65 128.50 L866.17 128.50 L866.68 128.50 L867.20 128.50 L867.71 129.36 L868.23 129.51 L868.74 129.68 L869.26 129.89 L869.77 130.13 L870.29 130.42 L870.80 130.75 L871.32 131.14 L871.83 131.60 L872.35 132.14 L872.86 132.76 L873.38 133.50 L873.89 134.35 L874.41 135.35 L874.92 136.52 L875.44 137.88 L875.95 139.46 L876.47 141.29 L876.98 143.40 L877.50 145.85 L878.02 148.66 L878.53 151.89 L879.05 155.57 L879.56 159.77 L880.08 164.51 L880.59 169.85 L881.11 175.82 L881.62 182.44 L882.14 189.73 L882.65 197.69 L883.17 206.29 L883.68 215.49 L884.20 225.22 L884.71 235.39 L885.23 245.90 L885.74 256.61 L886.26 267.39 L886.77 278.10 L887.29 288.61 L887.80 298.78 L888.32 308.51 L888.83 317.71 L889.35 326.31 L889.86 334.27 L890.38 341.56 L890.89 348.18 L891.41 354.15 L891.92 359.49 L892.44 364.23 L892.95 368.43 L893.47 372.11 L893.98 375.34 L894.50 378.15 L895.02 380.60 L895.53 382.71 L896.05 384.54 L896.56 386.12 L897.08 387.48 L897.59 388.65 L898.11 389.65 L898.62 390.50 L899.14 391.24 L899.65 391.86 L900.17 392.40 L900.68 392.86 L901.20 393.25 L901.71 393.58 L902.23 393.87 L902.74 394.11 L903.26 394.32 L903.77 394.49 L904.29 394.64 L904.80 395.50 L905.32 395.50 L905.83 395.50 L906.35 395.50 L906.86 395.50 L907.38 395.50 L907.89 395.50 L908.41 395.50 L908.92 395.50 L909.44 395.50 L909.95 395.50 L910.47 395.50 L910.98 395.50 L911.50 395.50 L912.02 395.50 L912.53 395.50 L913.05 395.50 L913.56 395.50 L914.08 395.50 L914.59 395.50 L915.11 395.50 L915.62 395.50 L916.14 395.50 L916.65 395.50 L917.17 395.50 L917.68 395.50 L918.20 395.50 L918.71 395.50 L919.23 395.50 L919.74 395.50 L920.26 395.50 L920.77 395.50 L921.29 395.50 L921.80 395.50 L922.32 396.37 L922.83 396.52 L923.35 396.70 L923.86 396.90 L924.38 397.15 L924.89 397.43 L925.41 397.76 L925.92 398.14 L926.44 398.59 L926.95 399.11 L927.47 399.71 L927.98 400.41 L928.50 401.22 L929.02 402.14 L929.53 403.21 L930.05 404.42 L930.56 405.80 L931.08 407.37 L931.59 409.13 L932.11 411.09 L932.62 413.28 L933.14 415.68 L933.65 418.30 L934.17 421.14 L934.68 424.17 L935.20 427.38 L935.71 430.73 L936.23 434.19 L936.74 437.72 L937.26 441.28 L937.77 444.81 L938.29 448.27 L938.80 451.62 L939.32 454.83 L939.83 457.86 L940.35 460.70 L940.86 463.32 L941.38 465.72 L941.89 467.91 L942.41 469.87 L942.92 471.63 L943.44 473.20 L943.95 474.58 L944.47 475.79 L944.98 476.86 L945.50 477.78 L946.02 478.59 L946.53 479.29 L947.05 479.89 L947.56 480.41 L948.08 480.86 L948.59 481.24 L949.11 481.57 L949.62 481.85 L950.14 482.10 L950.65 482.30 L951.17 482.48 L951.68 482.63 L952.20 483.50 L952.71 483.50 L953.23 483.50 L953.74 483.50 L954.26 483.50 L954.77 483.50 L955.29 483.50 L955.80 483.50 L956.32 483.50 L956.83 483.50 L957.35 483.50 L957.86 483.50 L958.38 483.50 L958.89 483.50 L959.41 483.50 L959.92 483.50 L960.44 483.50 L960.95 483.50 L961.47 483.50 L961.98 483.50 L962.50 483.50"/>
<path stroke="#E27189" d="M398.50 838.50 L450.50 838.50 L451.02 838.50 L451.53 838.50 L452.05 838.50 L452.56 838.50 L453.08 838.50 L453.59 838.50 L454.11 838.50 L454.62 838.50 L455.14 838.50 L455.65 838.50 L456.17 838.50 L456.68 838.50 L457.20 838.50 L457.71 838.50 L458.23 838.50 L458.74 838.50 L459.26 838.50 L459.77 838.50 L460.29 838.50 L460.80 838.50 L461.32 837.63 L461.83 837.48 L462.35 837.30 L462.86 837.10 L463.38 836.85 L463.89 836.57 L464.41 836.24 L464.92 835.86 L465.44 835.41 L465.95 834.89 L466.47 834.29 L466.98 833.59 L467.50 832.78 L468.02 831.86 L468.53 830.79 L469.05 829.58 L469.56 828.20 L470.08 826.63 L470.59 824.87 L471.11 822.91 L471.62 820.72 L472.14 818.32 L472.65 815.70 L473.17 812.86 L473.68 809.83 L474.20 806.62 L474.71 803.27 L475.23 799.81 L475.74 796.28 L476.26 792.72 L476.77 789.19 L477.29 785.73 L477.80 782.38 L478.32 779.17 L478.83 776.14 L479.35 773.30 L479.86 770.68 L480.38 768.28 L480.89 766.09 L481.41 764.13 L481.92 762.37 L482.44 760.80 L482.95 759.42 L483.47 758.21 L483.98 757.14 L484.50 756.22 L485.02 755.41 L485.53 754.71 L486.05 754.11 L486.56 753.59 L487.08 753.14 L487.59 752.76 L488.11 752.43 L488.62 752.15 L489.14 751.90 L489.65 751.70 L490.17 751.52 L490.68 751.37 L491.20 750.50 L491.71 750.50 L492.23 750.50 L492.74 750.50 L493.26 750.50 L493.77 750.50 L494.29 750.50 L494.80 750.50 L495.32 750.50 L495.83 750.50 L496.35 750.50 L496.86 750.50 L497.38 750.50 L497.89 750.50 L498.41 750.50 L498.92 750.50 L499.44 750.50 L499.95 750.50 L500.47 750.50 L500.98 750.50 L501.50 750.50 L603.50 750.50 L604.03 750.50 L604.55 750.50 L605.08 750.50 L605.60 750.50 L606.13 750.50 L606.65 750.50 L607.18 750.50 L607.70 750.50 L608.23 750.50 L608.75 750.50 L609.28 750.50 L609.80 750.50 L610.33 750.50 L610.85 749.64 L611.38 749.49 L611.90 749.32 L612.43 749.11 L612.95 748.87 L613.48 748.58 L614.01 748.25 L614.53 747.86 L615.06 747.40 L615.58 746.86 L616.11 746.24 L616.63 745.50 L617.16 744.65 L617.68 743.65 L618.21 742.48 L618.73 741.12 L619.26 739.54 L619.78 737.71 L620.31 735.60 L620.83 733.15 L621.36 730.34 L621.88 727.11 L622.41 723.43 L622.93 719.23 L623.46 714.49 L623.98 709.15 L624.51 703.18 L625.04 696.56 L625.56 689.27 L626.09 681.31 L626.61 672.71 L627.14 663.51 L627.66 653.78 L628.19 643.61 L628.71 633.10 L629.24 622.39 L629.76 611.61 L630.29 600.90 L630.81 590.39 L631.34 580.22 L631.86 570.49 L632.39 561.29 L632.91 552.69 L633.44 544.73 L633.96 537.44 L634.49 530.82 L635.02 524.85 L635.54 519.51 L636.07 514.77 L636.59 510.57 L637.12 506.89 L637.64 503.66 L638.17 500.85 L638.69 498.40 L639.22 496.29 L639.74 494.46 L640.27 492.88 L640.79 491.52 L641.32 490.35 L641.84 489.35 L642.37 488.50 L642.89 487.76 L643.42 487.14 L643.94 486.60 L644.47 486.14 L644.99 485.75 L645.52 485.42 L646.05 485.13 L646.57 484.89 L647.10 484.68 L647.62 484.51 L648.15 484.36 L648.67 483.50 L649.20 483.50 L649.72 483.50 L650.25 483.50 L650.77 483.50 L651.30 483.50 L651.82 483.50 L652.35 483.50 L652.87 483.50 L653.40 483.50 L653.92 483.50 L654.45 483.50 L654.97 483.50 L655.50 483.50 L656.02 483.50 L656.53 483.50 L657.05 483.50 L657.56 483.50 L658.08 483.50 L658.59 483.50 L659.11 483.50 L659.62 483.50 L660.14 483.50 L660.65 483.50 L661.17 483.50 L661.68 483.50 L662.20 483.50 L662.71 483.50 L663.23 483.50 L663.74 483.50 L664.26 484.43 L664.77 484.59 L665.29 484.78 L665.80 485.00 L666.32 485.26 L666.83 485.57 L667.35 485.92 L667.86 486.34 L668.38 486.83 L668.89 487.40 L669.41 488.07 L669.92 488.85 L670.44 489.75 L670.95 490.80 L671.47 492.02 L671.98 493.44 L672.50 495.06 L673.02 496.94 L673.53 499.09 L674.05 501.55 L674.56 504.34 L675.08 507.51 L675.59 511.07 L676.11 515.04 L676.62 519.46 L677.14 524.32 L677.65 529.62 L678.17 535.36 L678.68 541.49 L679.20 547.98 L679.71 554.76 L680.23 561.76 L680.74 568.91 L681.26 576.09 L681.77 583.24 L682.29 590.24 L682.80 597.02 L683.32 603.51 L683.83 609.64 L684.35 615.38 L684.86 620.68 L685.38 625.54 L685.89 629.96 L686.41 633.93 L686.92 637.49 L687.44 640.66 L687.95 643.45 L688.47 645.91 L688.98 648.06 L689.50 649.94 L690.02 651.56 L690.53 652.98 L691.05 654.20 L691.56 655.25 L692.08 656.15 L692.59 656.93 L693.11 657.60 L693.62 658.17 L694.14 658.66 L694.65 659.08 L695.17 659.43 L695.68 659.74 L696.20 660.00 L696.71 660.22 L697.23 660.41 L697.74 660.57 L698.26 661.50 L698.77 661.50 L699.29 661.50 L699.80 661.50 L700.32 661.50 L700.83 661.50 L701.35 661.50 L701.86 661.50 L702.38 661.50 L702.89 661.50 L703.41 661.50 L703.92 661.50 L704.44 661.50 L704.95 661.50 L705.47 661.50 L705.98 661.50 L706.50 661.50 L707.02 661.50 L707.53 661.50 L708.05 661.50 L708.56 661.50 L709.08 661.50 L709.59 661.50 L710.11 661.50 L710.62 661.50 L711.14 661.50 L711.65 661.50 L712.17 661.50 L712.68 661.50 L713.20 661.50 L713.71 661.50 L714.23 661.50 L714.74 661.50 L715.26 660.57 L715.77 660.41 L716.29 660.22 L716.80 660.00 L717.32 659.74 L717.83 659.43 L718.35 659.08 L718.86 658.66 L719.38 658.17 L719.89 657.60 L720.41 656.93 L720.92 656.15 L721.44 655.25 L721.95 654.20 L722.47 652.98 L722.98 651.56 L723.50 649.94 L724.02 648.06 L724.53 645.91 L725.05 643.45 L725.56 640.66 L726.08 637.49 L726.59 633.93 L727.11 629.96 L727.62 625.54 L728.14 620.68 L728.65 615.38 L729.17 609.64 L729.68 603.51 L730.20 597.02 L730.71 590.24 L731.23 583.24 L731.74 576.09 L732.26 568.91 L732.77 561.76 L733.29 554.76 L733.80 547.98 L734.32 541.49 L734.83 535.36 L735.35 529.62 L735.86 524.32 L736.38 519.46 L736.89 515.04 L737.41 511.07 L737.92 507.51 L738.44 504.34 L738.95 501.55 L739.47 499.09 L739.98 496.94 L740.50 495.06 L741.02 493.44 L741.53 492.02 L742.05 490.80 L742.56 489.75 L743.08 488.85 L743.59 488.07 L744.11 487.40 L744.62 486.83 L745.14 486.34 L745.65 485.92 L746.17 485.57 L746.68 485.26 L747.20 485.00 L747.71 484.78 L748.23 484.59 L748.74 484.43 L749.26 483.50 L749.77 483.50 L750.29 483.50 L750.80 483.50 L751.32 483.50 L751.83 483.50 L752.35 483.50 L752.86 483.50 L753.38 483.50 L753.89 483.50 L754.41 483.50 L754.92 483.50 L755.44 483.50 L755.95 483.50 L756.47 483.50 L756.98 483.50 L757.50 483.50 L808.50 483.50 L809.03 483.50 L809.55 483.50 L810.08 483.50 L810.60 483.50 L811.13 483.50 L811.65 483.50 L812.18 483.50 L812.70 483.50 L813.23 483.50 L813.75 483.50 L814.28 483.50 L814.80 483.50 L815.33 483.50 L815.85 483.50 L816.38 483.50 L816.90 483.50 L817.43 483.50 L817.95 483.50 L818.48 483.50 L819.01 483.50 L819.53 484.38 L820.06 484.53 L820.58 484.71 L821.11 484.92 L821.63 485.17 L822.16 485.45 L822.68 485.78 L823.21 486.17 L823.73 486.63 L824.26 487.15 L824.78 487.76 L825.31 488.47 L825.83 489.28 L826.36 490.22 L826.88 491.30 L827.41 492.52 L827.93 493.92 L828.46 495.50 L828.98 497.28 L829.51 499.27 L830.04 501.48 L830.56 503.91 L831.09 506.56 L831.61 509.43 L832.14 512.50 L832.66 515.74 L833.19 519.13 L833.71 522.63 L834.24 526.20 L834.76 529.80 L835.29 533.37 L835.81 536.87 L836.34 540.26 L836.86 543.50 L837.39 546.57 L837.91 549.44 L838.44 552.09 L838.96 554.52 L839.49 556.73 L840.02 558.72 L840.54 560.50 L841.07 562.08 L841.59 563.48 L842.12 564.70 L842.64 565.78 L843.17 566.72 L843.69 567.53 L844.22 568.24 L844.74 568.85 L845.27 569.37 L845.79 569.83 L846.32 570.22 L846.84 570.55 L847.37 570.83 L847.89 571.08 L848.42 571.29 L848.94 571.47 L849.47 571.62 L849.99 572.50 L850.52 572.50 L851.05 572.50 L851.57 572.50 L852.10 572.50 L852.62 572.50 L853.15 572.50 L853.67 572.50 L854.20 572.50 L854.72 572.50 L855.25 572.50 L855.77 572.50 L856.30 572.50 L856.82 572.50 L857.35 572.50 L857.87 572.50 L858.40 572.50 L858.92 572.50 L859.45 572.50 L859.97 572.50 L860.50 572.50 L911.50 572.50 L962.50 572.50"/>
<path stroke="#7E679E" d="M296.50 483.50 L297.02 483.50 L297.53 483.50 L298.05 483.50 L298.56 483.50 L299.08 483.50 L299.59 483.50 L300.11 483.50 L300.62 483.50 L301.14 483.50 L301.65 483.50 L302.17 483.50 L302.68 483.50 L303.20 483.50 L303.71 483.50 L304.23 483.50 L304.74 483.50 L305.26 482.58 L305.77 482.42 L306.29 482.23 L306.80 482.01 L307.32 481.75 L307.83 481.45 L308.35 481.09 L308.86 480.67 L309.38 480.19 L309.89 479.62 L310.41 478.96 L310.92 478.18 L311.44 477.28 L311.95 476.24 L312.47 475.02 L312.98 473.62 L313.50 472.00 L314.02 470.14 L314.53 468.00 L315.05 465.55 L315.56 462.77 L316.08 459.63 L316.59 456.09 L317.11 452.13 L317.62 447.74 L318.14 442.91 L318.65 437.63 L319.17 431.93 L319.68 425.83 L320.20 419.38 L320.71 412.64 L321.23 405.68 L321.74 398.57 L322.26 391.43 L322.77 384.32 L323.29 377.36 L323.80 370.62 L324.32 364.17 L324.83 358.07 L325.35 352.37 L325.86 347.09 L326.38 342.26 L326.89 337.87 L327.41 333.91 L327.92 330.37 L328.44 327.23 L328.95 324.45 L329.47 322.00 L329.98 319.86 L330.50 318.00 L331.02 316.38 L331.53 314.98 L332.05 313.76 L332.56 312.72 L333.08 311.82 L333.59 311.04 L334.11 310.38 L334.62 309.81 L335.14 309.33 L335.65 308.91 L336.17 308.55 L336.68 308.25 L337.20 307.99 L337.71 307.77 L338.23 307.58 L338.74 307.42 L339.26 306.50 L339.77 306.50 L340.29 306.50 L340.80 306.50 L341.32 306.50 L341.83 306.50 L342.35 306.50 L342.86 306.50 L343.38 306.50 L343.89 306.50 L344.41 306.50 L344.92 306.50 L345.44 306.50 L345.95 306.50 L346.47 306.50 L346.98 306.50 L347.50 306.50 L398.50 306.50 L450.50 306.50 L501.50 306.50 L502.02 306.50 L502.53 306.50 L503.05 306.50 L503.56 306.50 L504.08 306.50 L504.59 306.50 L505.11 306.50 L505.62 306.50 L506.14 306.50 L506.65 306.50 L507.17 306.50 L507.68 306.50 L508.20 306.50 L508.71 306.50 L509.23 306.50 L509.74 306.50 L510.26 306.50 L510.77 306.50 L511.29 306.50 L511.80 306.50 L512.32 307.38 L512.83 307.53 L513.35 307.71 L513.86 307.92 L514.38 308.17 L514.89 308.45 L515.41 308.78 L515.92 309.17 L516.44 309.63 L516.95 310.15 L517.47 310.76 L517.98 311.47 L518.50 312.28 L519.02 313.22 L519.53 314.30 L520.05 315.52 L520.56 316.92 L521.08 318.50 L521.59 320.28 L522.11 322.27 L522.62 324.48 L523.14 326.91 L523.65 329.56 L524.17 332.43 L524.68 335.50 L525.20 338.74 L525.71 342.13 L526.23 345.63 L526.74 349.20 L527.26 352.80 L527.77 356.37 L528.29 359.87 L528.80 363.26 L529.32 366.50 L529.83 369.57 L530.35 372.44 L530.86 375.09 L531.38 377.52 L531.89 379.73 L532.41 381.72 L532.92 383.50 L533.44 385.08 L533.95 386.48 L534.47 387.70 L534.98 388.78 L535.50 389.72 L536.02 390.53 L536.53 391.24 L537.05 391.85 L537.56 392.37 L538.08 392.83 L538.59 393.22 L539.11 393.55 L539.62 393.83 L540.14 394.08 L540.65 394.29 L541.17 394.47 L541.68 394.62 L542.20 395.50 L542.71 395.50 L543.23 395.50 L543.74 395.50 L544.26 395.50 L544.77 395.50 L545.29 395.50 L545.80 395.50 L546.32 395.50 L546.83 395.50 L547.35 395.50 L547.86 395.50 L548.38 395.50 L548.89 395.50 L549.41 395.50 L549.92 395.50 L550.44 395.50 L550.95 395.50 L551.47 395.50 L551.98 395.50 L552.50 395.50 L553.02 395.50 L553.53 395.50 L554.05 395.50 L554.56 395.50 L555.08 395.50 L555.59 395.50 L556.11 395.50 L556.62 395.50 L557.14 395.50 L557.65 395.50 L558.17 395.50 L558.68 395.50 L559.20 395.50 L559.71 395.50 L560.23 395.50 L560.74 395.50 L561.26 395.50 L561.77 395.50 L562.29 395.50 L562.80 395.50 L563.32 394.62 L563.83 394.47 L564.35 394.29 L564.86 394.08 L565.38 393.83 L565.89 393.55 L566.41 393.22 L566.92 392.83 L567.44 392.37 L567.95 391.85 L568.47 391.24 L568.98 390.53 L569.50 389.72 L570.02 388.78 L570.53 387.70 L571.05 386.48 L571.56 385.08 L572.08 383.50 L572.59 381.72 L573.11 379.73 L573.62 377.52 L574.14 375.09 L574.65 372.44 L575.17 369.57 L575.68 366.50 L576.20 363.26 L576.71 359.87 L577.23 356.37 L577.74 352.80 L578.26 349.20 L578.77 345.63 L579.29 342.13 L579.80 338.74 L580.32 335.50 L580.83 332.43 L581.35 329.56 L581.86 326.91 L582.38 324.48 L582.89 322.27 L583.41 320.28 L583.92 318.50 L584.44 316.92 L584.95 315.52 L585.47 314.30 L585.98 313.22 L586.50 312.28 L587.02 311.47 L587.53 310.76 L588.05 310.15 L588.56 309.63 L589.08 309.17 L589.59 308.78 L590.11 308.45 L590.62 308.17 L591.14 307.92 L591.65 307.71 L592.17 307.53 L592.68 307.38 L593.20 306.50 L593.71 306.50 L594.23 306.50 L594.74 306.50 L595.26 306.50 L595.77 306.50 L596.29 306.50 L596.80 306.50 L597.32 306.50 L597.83 306.50 L598.35 306.50 L598.86 306.50 L599.38 306.50 L599.89 306.50 L600.41 306.50 L600.92 306.50 L601.44 306.50 L601.95 306.50 L602.47 306.50 L602.98 306.50 L603.50 306.50 L655.50 306.50 L706.50 306.50 L757.50 306.50 L758.02 306.50 L758.53 306.50 L759.05 306.50 L759.56 306.50 L760.08 306.50 L760.59 306.50 L761.11 306.50 L761.62 306.50 L762.14 306.50 L762.65 306.50 L763.17 306.50 L763.68 306.50 L764.20 306.50 L764.71 306.50 L765.23 306.50 L765.74 306.50 L766.26 306.50 L766.77 306.50 L767.29 306.50 L767.80 306.50 L768.32 305.62 L768.83 305.47 L769.35 305.29 L769.86 305.08 L770.38 304.83 L770.89 304.55 L771.41 304.22 L771.92 303.83 L772.44 303.37 L772.95 302.85 L773.47 302.24 L773.98 301.53 L774.50 300.72 L775.02 299.78 L775.53 298.70 L776.05 297.48 L776.56 296.08 L777.08 294.50 L777.59 292.72 L778.11 290.73 L778.62 288.52 L779.14 286.09 L779.65 283.44 L780.17 280.57 L780.68 277.50 L781.20 274.26 L781.71 270.87 L782.23 267.37 L782.74 263.80 L783.26 260.20 L783.77 256.63 L784.29 253.13 L784.80 249.74 L785.32 246.50 L785.83 243.43 L786.35 240.56 L786.86 237.91 L787.38 235.48 L787.89 233.27 L788.41 231.28 L788.92 229.50 L789.44 227.92 L789.95 226.52 L790.47 225.30 L790.98 224.22 L791.50 223.28 L792.02 222.47 L792.53 221.76 L793.05 221.15 L793.56 220.63 L794.08 220.17 L794.59 219.78 L795.11 219.45 L795.62 219.17 L796.14 218.92 L796.65 218.71 L797.17 218.53 L797.68 218.38 L798.20 217.50 L798.71 217.50 L799.23 217.50 L799.74 217.50 L800.26 217.50 L800.77 217.50 L801.29 217.50 L801.80 217.50 L802.32 217.50 L802.83 217.50 L803.35 217.50 L803.86 217.50 L804.38 217.50 L804.89 217.50 L805.41 217.50 L805.92 217.50 L806.44 217.50 L806.95 217.50 L807.47 217.50 L807.98 217.50 L808.50 217.50 L809.03 217.50 L809.55 217.50 L810.08 217.50 L810.60 217.50 L811.13 217.50 L811.65 217.50 L812.18 217.50 L812.70 217.50 L813.23 217.50 L813.75 217.50 L814.28 217.50 L814.80 217.50 L815.33 217.50 L815.85 217.50 L816.38 217.50 L816.90 217.50 L817.43 218.43 L817.95 218.59 L818.48 218.78 L819.01 219.00 L819.53 219.26 L820.06 219.57 L820.58 219.92 L821.11 220.34 L821.63 220.83 L822.16 221.40 L822.68 222.07 L823.21 222.85 L823.73 223.75 L824.26 224.80 L824.78 226.02 L825.31 227.44 L825.83 229.06 L826.36 230.94 L826.88 233.09 L827.41 235.55 L827.93 238.34 L828.46 241.51 L828.98 245.07 L829.51 249.04 L830.04 253.46 L830.56 258.32 L831.09 263.62 L831.61 269.36 L832.14 275.49 L832.66 281.98 L833.19 288.76 L833.71 295.76 L834.24 302.91 L834.76 310.09 L835.29 317.24 L835.81 324.24 L836.34 331.02 L836.86 337.51 L837.39 343.64 L837.91 349.38 L838.44 354.68 L838.96 359.54 L839.49 363.96 L840.02 367.93 L840.54 371.49 L841.07 374.66 L841.59 377.45 L842.12 379.91 L842.64 382.06 L843.17 383.94 L843.69 385.56 L844.22 386.98 L844.74 388.20 L845.27 389.25 L845.79 390.15 L846.32 390.93 L846.84 391.60 L847.37 392.17 L847.89 392.66 L848.42 393.08 L848.94 393.43 L849.47 393.74 L849.99 394.00 L850.52 394.22 L851.05 394.41 L851.57 394.57 L852.10 395.50 L852.62 395.50 L853.15 395.50 L853.67 395.50 L854.20 395.50 L854.72 395.50 L855.25 395.50 L855.77 395.50 L856.30 395.50 L856.82 395.50 L857.35 395.50 L857.87 395.50 L858.40 395.50 L858.92 395.50 L859.45 395.50 L859.97 395.50 L860.50 395.50 L861.02 395.50 L861.53 395.50 L862.05 395.50 L862.56 395.50 L863.08 395.50 L863.59 395.50 L864.11 395.50 L864.62 395.50 L865.14 395.50 L865.65 395.50 L866.17 395.50 L866.68 395.50 L867.20 395.50 L867.71 395.50 L868.23 395.50 L868.74 395.50 L869.26 394.57 L869.77 394.41 L870.29 394.22 L870.80 394.00 L871.32 393.74 L871.83 393.43 L872.35 393.08 L872.86 392.66 L873.38 392.17 L873.89 391.60 L874.41 390.93 L874.92 390.15 L875.44 389.25 L875.95 388.20 L876.47 386.98 L876.98 385.56 L877.50 383.94 L878.02 382.06 L878.53 379.91 L879.05 377.45 L879.56 374.66 L880.08 371.49 L880.59 367.93 L881.11 363.96 L881.62 359.54 L882.14 354.68 L882.65 349.38 L883.17 343.64 L883.68 337.51 L884.20 331.02 L884.71 324.24 L885.23 317.24 L885.74 310.09 L886.26 302.91 L886.77 295.76 L887.29 288.76 L887.80 281.98 L888.32 275.49 L888.83 269.36 L889.35 263.62 L889.86 258.32 L890.38 253.46 L890.89 249.04 L891.41 245.07 L891.92 241.51 L892.44 238.34 L892.95 235.55 L893.47 233.09 L893.98 230.94 L894.50 229.06 L895.02 227.44 L895.53 226.02 L896.05 224.80 L896.56 223.75 L897.08 222.85 L897.59 222.07 L898.11 221.40 L898.62 220.83 L899.14 220.34 L899.65 219.92 L900.17 219.57 L900.68 219.26 L901.20 219.00 L901.71 218.78 L902.23 218.59 L902.74 218.43 L903.26 217.50 L903.77 217.50 L904.29 217.50 L904.80 217.50 L905.32 217.50 L905.83 217.50 L906.35 217.50 L906.86 217.50 L907.38 217.50 L907.89 217.50 L908.41 217.50 L908.92 217.50 L909.44 217.50 L909.95 217.50 L910.47 217.50 L910.98 217.50 L911.50 217.50 L912.02 217.50 L912.53 217.50 L913.05 217.50 L913.56 217.50 L914.08 217.50 L914.59 217.50 L915.11 217.50 L915.62 217.50 L916.14 217.50 L916.65 217.50 L917.17 217.50 L917.68 217.50 L918.20 217.50 L918.71 217.50 L919.23 217.50 L919.74 217.50 L920.26 217.50 L920.77 217.50 L921.29 217.50 L921.80 217.50 L922.32 218.38 L922.83 218.53 L923.35 218.71 L923.86 218.92 L924.38 219.17 L924.89 219.45 L925.41 219.78 L925.92 220.17 L926.44 220.63 L926.95 221.15 L927.47 221.76 L927.98 222.47 L928.50 223.28 L929.02 224.22 L929.53 225.30 L930.05 226.52 L930.56 227.92 L931.08 229.50 L931.59 231.28 L932.11 233.27 L932.62 235.48 L933.14 237.91 L933.65 240.56 L934.17 243.43 L934.68 246.50 L935.20 249.74 L935.71 253.13 L936.23 256.63 L936.74 260.20 L937.26 263.80 L937.77 267.37 L938.29 270.87 L938.80 274.26 L939.32 277.50 L939.83 280.57 L940.35 283.44 L940.86 286.09 L941.38 288.52 L941.89 290.73 L942.41 292.72 L942.92 294.50 L943.44 296.08 L943.95 297.48 L944.47 298.70 L944.98 299.78 L945.50 300.72 L946.02 301.53 L946.53 302.24 L947.05 302.85 L947.56 303.37 L948.08 303.83 L948.59 304.22 L949.11 304.55 L949.62 304.83 L950.14 305.08 L950.65 305.29 L951.17 305.47 L951.68 305.62 L952.20 306.50 L952.71 306.50 L953.23 306.50 L953.74 306.50 L954.26 306.50 L954.77 306.50 L955.29 306.50 L955.80 306.50 L956.32 306.50 L956.83 306.50 L957.35 306.50 L957.86 306.50 L958.38 306.50 L958.89 306.50 L959.41 306.50 L959.92 306.50 L960.44 306.50 L960.95 306.50 L961.47 306.50 L961.98 306.50 L962.50 306.50"/>
<path stroke="#EC837F" d="M296.50 306.50 L297.02 306.50 L297.53 306.50 L298.05 306.50 L298.56 306.50 L299.08 306.50 L299.59 306.50 L300.11 306.50 L300.62 306.50 L301.14 306.50 L301.65 306.50 L302.17 306.50 L302.68 306.50 L303.20 306.50 L303.71 306.50 L304.23 306.50 L304.74 306.50 L305.26 306.50 L305.77 306.50 L306.29 306.50 L306.80 306.50 L307.32 307.38 L307.83 307.53 L308.35 307.71 L308.86 307.92 L309.38 308.17 L309.89 308.45 L310.41 308.78 L310.92 309.17 L311.44 309.63 L311.95 310.15 L312.47 310.76 L312.98 311.47 L313.50 312.28 L314.02 313.22 L314.53 314.30 L315.05 315.52 L315.56 316.92 L316.08 318.50 L316.59 320.28 L317.11 322.27 L317.62 324.48 L318.14 326.91 L318.65 329.56 L319.17 332.43 L319.68 335.50 L320.20 338.74 L320.71 342.13 L321.23 345.63 L321.74 349.20 L322.26 352.80 L322.77 356.37 L323.29 359.87 L323.80 363.26 L324.32 366.50 L324.83 369.57 L325.35 372.44 L325.86 375.09 L326.38 377.52 L326.89 379.73 L327.41 381.72 L327.92 383.50 L328.44 385.08 L328.95 386.48 L329.47 387.70 L329.98 388.78 L330.50 389.72 L331.02 390.53 L331.53 391.24 L332.05 391.85 L332.56 392.37 L333.08 392.83 L333.59 393.22 L334.11 393.55 L334.62 393.83 L335.14 394.08 L335.65 394.29 L336.17 394.47 L336.68 394.62 L337.20 395.50 L337.71 395.50 L338.23 395.50 L338.74 395.50 L339.26 395.50 L339.77 395.50 L340.29 395.50 L340.80 395.50 L341.32 395.50 L341.83 395.50 L342.35 395.50 L342.86 395.50 L343.38 395.50 L343.89 395.50 L344.41 395.50 L344.92 395.50 L345.44 395.50 L345.95 395.50 L346.47 395.50 L346.98 395.50 L347.50 395.50 L398.50 395.50 L450.50 395.50 L451.02 395.50 L451.53 395.50 L452.05 395.50 L452.56 395.50 L453.08 395.50 L453.59 395.50 L454.11 395.50 L454.62 395.50 L455.14 395.50 L455.65 395.50 L456.17 395.50 L456.68 395.50 L457.20 395.50 L457.71 395.50 L458.23 395.50 L458.74 395.50 L459.26 396.42 L459.77 396.58 L460.29 396.77 L460.80 396.99 L461.32 397.25 L461.83 397.55 L462.35 397.91 L462.86 398.33 L463.38 398.81 L463.89 399.38 L464.41 400.04 L464.92 400.82 L465.44 401.72 L465.95 402.76 L466.47 403.98 L466.98 405.38 L467.50 407.00 L468.02 408.86 L468.53 411.00 L469.05 413.45 L469.56 416.23 L470.08 419.37 L470.59 422.91 L471.11 426.87 L471.62 431.26 L472.14 436.09 L472.65 441.37 L473.17 447.07 L473.68 453.17 L474.20 459.62 L474.71 466.36 L475.23 473.32 L475.74 480.43 L476.26 487.57 L476.77 494.68 L477.29 501.64 L477.80 508.38 L478.32 514.83 L478.83 520.93 L479.35 526.63 L479.86 531.91 L480.38 536.74 L480.89 541.13 L481.41 545.09 L481.92 548.63 L482.44 551.77 L482.95 554.55 L483.47 557.00 L483.98 559.14 L484.50 561.00 L485.02 562.62 L485.53 564.02 L486.05 565.24 L486.56 566.28 L487.08 567.18 L487.59 567.96 L488.11 568.62 L488.62 569.19 L489.14 569.67 L489.65 570.09 L490.17 570.45 L490.68 570.75 L491.20 571.01 L491.71 571.23 L492.23 571.42 L492.74 571.58 L493.26 572.50 L493.77 572.50 L494.29 572.50 L494.80 572.50 L495.32 572.50 L495.83 572.50 L496.35 572.50 L496.86 572.50 L497.38 572.50 L497.89 572.50 L498.41 572.50 L498.92 572.50 L499.44 572.50 L499.95 572.50 L500.47 572.50 L500.98 572.50 L501.50 572.50 L552.50 572.50 L603.50 572.50 L655.50 572.50 L656.02 572.50 L656.53 572.50 L657.05 572.50 L657.56 572.50 L658.08 572.50 L658.59 572.50 L659.11 572.50 L659.62 572.50 L660.14 572.50 L660.65 572.50 L661.17 572.50 L661.68 572.50 L662.20 572.50 L662.71 572.50 L663.23 572.50 L663.74 572.50 L664.26 573.43 L664.77 573.59 L665.29 573.78 L665.80 574.00 L666.32 574.26 L666.83 574.57 L667.35 574.92 L667.86 575.34 L668.38 575.83 L668.89 576.40 L669.41 577.07 L669.92 577.85 L670.44 578.75 L670.95 579.80 L671.47 581.02 L671.98 582.44 L672.50 584.06 L673.02 585.94 L673.53 588.09 L674.05 590.55 L674.56 593.34 L675.08 596.51 L675.59 600.07 L676.11 604.04 L676.62 608.46 L677.14 613.32 L677.65 618.62 L678.17 624.36 L678.68 630.49 L679.20 636.98 L679.71 643.76 L680.23 650.76 L680.74 657.91 L681.26 665.09 L681.77 672.24 L682.29 679.24 L682.80 686.02 L683.32 692.51 L683.83 698.64 L684.35 704.38 L684.86 709.68 L685.38 714.54 L685.89 718.96 L686.41 722.93 L686.92 726.49 L687.44 729.66 L687.95 732.45 L688.47 734.91 L688.98 737.06 L689.50 738.94 L690.02 740.56 L690.53 741.98 L691.05 743.20 L691.56 744.25 L692.08 745.15 L692.59 745.93 L693.11 746.60 L693.62 747.17 L694.14 747.66 L694.65 748.08 L695.17 748.43 L695.68 748.74 L696.20 749.00 L696.71 749.22 L697.23 749.41 L697.74 749.57 L698.26 750.50 L698.77 750.50 L699.29 750.50 L699.80 750.50 L700.32 750.50 L700.83 750.50 L701.35 750.50 L701.86 750.50 L702.38 750.50 L702.89 750.50 L703.41 750.50 L703.92 750.50 L704.44 750.50 L704.95 750.50 L705.47 750.50 L705.98 750.50 L706.50 750.50 L707.02 750.50 L707.53 750.50 L708.05 750.50 L708.56 750.50 L709.08 750.50 L709.59 750.50 L710.11 750.50 L710.62 750.50 L711.14 750.50 L711.65 750.50 L712.17 750.50 L712.68 750.50 L713.20 750.50 L713.71 750.50 L714.23 750.50 L714.74 750.50 L715.26 750.50 L715.77 750.50 L716.29 750.50 L716.80 750.50 L717.32 749.62 L717.83 749.47 L718.35 749.29 L718.86 749.08 L719.38 748.83 L719.89 748.55 L720.41 748.22 L720.92 747.83 L721.44 747.37 L721.95 746.85 L722.47 746.24 L722.98 745.53 L723.50 744.72 L724.02 743.78 L724.53 742.70 L725.05 741.48 L725.56 740.08 L726.08 738.50 L726.59 736.72 L727.11 734.73 L727.62 732.52 L728.14 730.09 L728.65 727.44 L729.17 724.57 L729.68 721.50 L730.20 718.26 L730.71 714.87 L731.23 711.37 L731.74 707.80 L732.26 704.20 L732.77 700.63 L733.29 697.13 L733.80 693.74 L734.32 690.50 L734.83 687.43 L735.35 684.56 L735.86 681.91 L736.38 679.48 L736.89 677.27 L737.41 675.28 L737.92 673.50 L738.44 671.92 L738.95 670.52 L739.47 669.30 L739.98 668.22 L740.50 667.28 L741.02 666.47 L741.53 665.76 L742.05 665.15 L742.56 664.63 L743.08 664.17 L743.59 663.78 L744.11 663.45 L744.62 663.17 L745.14 662.92 L745.65 662.71 L746.17 662.53 L746.68 662.38 L747.20 661.50 L747.71 661.50 L748.23 661.50 L748.74 661.50 L749.26 661.50 L749.77 661.50 L750.29 661.50 L750.80 661.50 L751.32 661.50 L751.83 661.50 L752.35 661.50 L752.86 661.50 L753.38 661.50 L753.89 661.50 L754.41 661.50 L754.92 661.50 L755.44 661.50 L755.95 661.50 L756.47 661.50 L756.98 661.50 L757.50 661.50 L808.50 661.50 L860.50 661.50 L911.50 661.50 L962.50 661.50"/>
<path stroke="#AD6A9E" d="M296.50 572.50 L347.50 572.50 L348.02 572.50 L348.53 572.50 L349.05 572.50 L349.56 572.50 L350.08 572.50 L350.59 572.50 L351.11 572.50 L351.62 572.50 L352.14 572.50 L352.65 572.50 L353.17 572.50 L353.68 572.50 L354.20 572.50 L354.71 572.50 L355.23 572.50 L355.74 572.50 L356.26 573.43 L356.77 573.59 L357.29 573.78 L357.80 574.00 L358.32 574.26 L358.83 574.57 L359.35 574.92 L359.86 575.34 L360.38 575.83 L360.89 576.40 L361.41 577.07 L361.92 577.85 L362.44 578.75 L362.95 579.80 L363.47 581.02 L363.98 582.44 L364.50 584.06 L365.02 585.94 L365.53 588.09 L366.05 590.55 L366.56 593.34 L367.08 596.51 L367.59 600.07 L368.11 604.04 L368.62 608.46 L369.14 613.32 L369.65 618.62 L370.17 624.36 L370.68 630.49 L371.20 636.98 L371.71 643.76 L372.23 650.76 L372.74 657.91 L373.26 665.09 L373.77 672.24 L374.29 679.24 L374.80 686.02 L375.32 692.51 L375.83 698.64 L376.35 704.38 L376.86 709.68 L377.38 714.54 L377.89 718.96 L378.41 722.93 L378.92 726.49 L379.44 729.66 L379.95 732.45 L380.47 734.91 L380.98 737.06 L381.50 738.94 L382.02 740.56 L382.53 741.98 L383.05 743.20 L383.56 744.25 L384.08 745.15 L384.59 745.93 L385.11 746.60 L385.62 747.17 L386.14 747.66 L386.65 748.08 L387.17 748.43 L387.68 748.74 L388.20 749.00 L388.71 749.22 L389.23 749.41 L389.74 749.57 L390.26 750.50 L390.77 750.50 L391.29 750.50 L391.80 750.50 L392.32 750.50 L392.83 750.50 L393.35 750.50 L393.86 750.50 L394.38 750.50 L394.89 750.50 L395.41 750.50 L395.92 750.50 L396.44 750.50 L396.95 750.50 L397.47 750.50 L397.98 750.50 L398.50 750.50 L399.03 750.50 L399.55 750.50 L400.08 750.50 L400.60 750.50 L401.13 750.50 L401.65 750.50 L402.18 750.50 L402.70 750.50 L403.23 750.50 L403.75 750.50 L404.28 750.50 L404.80 750.50 L405.33 750.50 L405.85 750.50 L406.38 750.50 L406.90 750.50 L407.43 750.50 L407.95 750.50 L408.48 750.50 L409.01 750.50 L409.53 749.62 L410.06 749.47 L410.58 749.29 L411.11 749.08 L411.63 748.83 L412.16 748.55 L412.68 748.22 L413.21 747.83 L413.73 747.37 L414.26 746.85 L414.78 746.24 L415.31 745.53 L415.83 744.72 L416.36 743.78 L416.88 742.70 L417.41 741.48 L417.93 740.08 L418.46 738.50 L418.98 736.72 L419.51 734.73 L420.04 732.52 L420.56 730.09 L421.09 727.44 L421.61 724.57 L422.14 721.50 L422.66 718.26 L423.19 714.87 L423.71 711.37 L424.24 707.80 L424.76 704.20 L425.29 700.63 L425.81 697.13 L426.34 693.74 L426.86 690.50 L427.39 687.43 L427.91 684.56 L428.44 681.91 L428.96 679.48 L429.49 677.27 L430.02 675.28 L430.54 673.50 L431.07 671.92 L431.59 670.52 L432.12 669.30 L432.64 668.22 L433.17 667.28 L433.69 666.47 L434.22 665.76 L434.74 665.15 L435.27 664.63 L435.79 664.17 L436.32 663.78 L436.84 663.45 L437.37 663.17 L437.89 662.92 L438.42 662.71 L438.94 662.53 L439.47 662.38 L439.99 661.50 L440.52 661.50 L441.05 661.50 L441.57 661.50 L442.10 661.50 L442.62 661.50 L443.15 661.50 L443.67 661.50 L444.20 661.50 L444.72 661.50 L445.25 661.50 L445.77 661.50 L446.30 661.50 L446.82 661.50 L447.35 661.50 L447.87 661.50 L448.40 661.50 L448.92 661.50 L449.45 661.50 L449.97 661.50 L450.50 661.50 L552.50 661.50 L553.54 661.50 L554.58 661.50 L555.62 661.50 L556.66 661.50 L557.70 661.50 L558.74 661.50 L559.78 661.50 L560.82 661.50 L561.86 661.50 L562.90 661.50 L563.94 661.50 L564.98 661.50 L566.03 661.50 L567.07 661.50 L568.11 661.50 L569.15 661.50 L570.19 662.42 L571.23 662.58 L572.27 662.77 L573.31 662.99 L574.35 663.25 L575.39 663.55 L576.43 663.91 L577.47 664.33 L578.51 664.81 L579.55 665.38 L580.59 666.04 L581.63 666.82 L582.67 667.72 L583.71 668.76 L584.75 669.98 L585.79 671.38 L586.83 673.00 L587.87 674.86 L588.91 677.00 L589.95 679.45 L590.99 682.23 L592.04 685.37 L593.08 688.91 L594.12 692.87 L595.16 697.26 L596.20 702.09 L597.24 707.37 L598.28 713.07 L599.32 719.17 L600.36 725.62 L601.40 732.36 L602.44 739.32 L603.48 746.43 L604.52 753.57 L605.56 760.68 L606.60 767.64 L607.64 774.38 L608.68 780.83 L609.72 786.93 L610.76 792.63 L611.80 797.91 L612.84 802.74 L613.88 807.13 L614.92 811.09 L615.96 814.63 L617.01 817.77 L618.05 820.55 L619.09 823.00 L620.13 825.14 L621.17 827.00 L622.21 828.62 L623.25 830.02 L624.29 831.24 L625.33 832.28 L626.37 833.18 L627.41 833.96 L628.45 834.62 L629.49 835.19 L630.53 835.67 L631.57 836.09 L632.61 836.45 L633.65 836.75 L634.69 837.01 L635.73 837.23 L636.77 837.42 L637.81 837.58 L638.85 838.50 L639.89 838.50 L640.93 838.50 L641.97 838.50 L643.02 838.50 L644.06 838.50 L645.10 838.50 L646.14 838.50 L647.18 838.50 L648.22 838.50 L649.26 838.50 L650.30 838.50 L651.34 838.50 L652.38 838.50 L653.42 838.50 L654.46 838.50 L655.50 838.50 L656.79 838.50 L658.07 838.50 L659.36 838.50 L660.65 838.50 L661.93 838.50 L663.22 838.50 L664.51 838.50 L665.79 838.50 L667.08 838.50 L668.36 838.50 L669.65 838.50 L670.94 838.50 L672.22 838.50 L673.51 838.50 L674.80 838.50 L676.08 838.50 L677.37 838.50 L678.66 838.50 L679.94 838.50 L681.23 838.50 L682.52 838.50 L683.80 838.50 L685.09 838.50 L686.37 838.50 L687.66 838.50 L688.95 838.50 L690.23 838.50 L691.52 838.50 L692.81 838.50 L694.09 838.50 L695.38 838.50 L696.67 838.50 L697.95 838.50 L699.24 838.50 L700.53 838.50 L701.81 838.50 L703.10 838.50 L704.38 838.50 L705.67 838.50 L706.96 838.50 L708.24 838.50 L709.53 837.64 L710.82 837.57 L712.10 837.50 L713.39 837.41 L714.68 837.32 L715.96 837.23 L717.25 837.12 L718.54 837.01 L719.82 836.89 L721.11 836.75 L722.39 836.61 L723.68 836.46 L724.97 836.29 L726.25 836.11 L727.54 835.91 L728.83 835.70 L730.11 835.48 L731.40 835.24 L732.69 834.97 L733.97 834.69 L735.26 834.39 L736.55 834.06 L737.83 833.71 L739.12 833.33 L740.40 832.92 L741.69 832.49 L742.98 832.02 L744.26 831.52 L745.55 830.99 L746.84 830.42 L748.12 829.81 L749.41 829.16 L750.70 828.47 L751.98 827.73 L753.27 826.94 L754.56 826.11 L755.84 825.23 L757.13 824.30 L758.41 823.32 L759.70 822.28 L760.99 821.19 L762.27 820.04 L763.56 818.84 L764.85 817.59 L766.13 816.28 L767.42 814.92 L768.71 813.51 L769.99 812.04 L771.28 810.53 L772.57 808.98 L773.85 807.38 L775.14 805.74 L776.42 804.07 L777.71 802.37 L779.00 800.65 L780.28 798.91 L781.57 797.15 L782.86 795.38 L784.14 793.62 L785.43 791.85 L786.72 790.09 L788.00 788.35 L789.29 786.63 L790.58 784.93 L791.86 783.26 L793.15 781.62 L794.43 780.02 L795.72 778.47 L797.01 776.96 L798.29 775.49 L799.58 774.08 L800.87 772.72 L802.15 771.41 L803.44 770.16 L804.73 768.96 L806.01 767.81 L807.30 766.72 L808.59 765.68 L809.87 764.70 L811.16 763.77 L812.44 762.89 L813.73 762.06 L815.02 761.27 L816.30 760.53 L817.59 759.84 L818.88 759.19 L820.16 758.58 L821.45 758.01 L822.74 757.48 L824.02 756.98 L825.31 756.51 L826.60 756.08 L827.88 755.67 L829.17 755.29 L830.45 754.94 L831.74 754.61 L833.03 754.31 L834.31 754.03 L835.60 753.76 L836.89 753.52 L838.17 753.30 L839.46 753.09 L840.75 752.89 L842.03 752.71 L843.32 752.54 L844.61 752.39 L845.89 752.25 L847.18 752.11 L848.46 751.99 L849.75 751.88 L851.04 751.77 L852.32 751.68 L853.61 751.59 L854.90 751.50 L856.18 751.43 L857.47 751.36 L858.76 750.50 L860.04 750.50 L861.33 750.50 L862.62 750.50 L863.90 750.50 L865.19 750.50 L866.47 750.50 L867.76 750.50 L869.05 750.50 L870.33 750.50 L871.62 750.50 L872.91 750.50 L874.19 750.50 L875.48 750.50 L876.77 750.50 L878.05 750.50 L879.34 750.50 L880.63 750.50 L881.91 750.50 L883.20 750.50 L884.48 750.50 L885.77 750.50 L887.06 750.50 L888.34 750.50 L889.63 750.50 L890.92 750.50 L892.20 750.50 L893.49 750.50 L894.78 750.50 L896.06 750.50 L897.35 750.50 L898.64 750.50 L899.92 750.50 L901.21 750.50 L902.49 750.50 L903.78 750.50 L905.07 750.50 L906.35 750.50 L907.64 750.50 L908.93 750.50 L910.21 750.50 L911.50 750.50"/>
<path stroke="#CE6C92" d="M347.50 750.50 L348.02 750.50 L348.53 750.50 L349.05 750.50 L349.56 750.50 L350.08 750.50 L350.59 750.50 L351.11 750.50 L351.62 750.50 L352.14 750.50 L352.65 750.50 L353.17 750.50 L353.68 750.50 L354.20 750.50 L354.71 750.50 L355.23 750.50 L355.74 750.50 L356.26 749.57 L356.77 749.41 L357.29 749.22 L357.80 749.00 L358.32 748.74 L358.83 748.43 L359.35 748.08 L359.86 747.66 L360.38 747.17 L360.89 746.60 L361.41 745.93 L361.92 745.15 L362.44 744.25 L362.95 743.20 L363.47 741.98 L363.98 740.56 L364.50 738.94 L365.02 737.06 L365.53 734.91 L366.05 732.45 L366.56 729.66 L367.08 726.49 L367.59 722.93 L368.11 718.96 L368.62 714.54 L369.14 709.68 L369.65 704.38 L370.17 698.64 L370.68 692.51 L371.20 686.02 L371.71 679.24 L372.23 672.24 L372.74 665.09 L373.26 657.91 L373.77 650.76 L374.29 643.76 L374.80 636.98 L375.32 630.49 L375.83 624.36 L376.35 618.62 L376.86 613.32 L377.38 608.46 L377.89 604.04 L378.41 600.07 L378.92 596.51 L379.44 593.34 L379.95 590.55 L380.47 588.09 L380.98 585.94 L381.50 584.06 L382.02 582.44 L382.53 581.02 L383.05 579.80 L383.56 578.75 L384.08 577.85 L384.59 577.07 L385.11 576.40 L385.62 575.83 L386.14 575.34 L386.65 574.92 L387.17 574.57 L387.68 574.26 L388.20 574.00 L388.71 573.78 L389.23 573.59 L389.74 573.43 L390.26 572.50 L390.77 572.50 L391.29 572.50 L391.80 572.50 L392.32 572.50 L392.83 572.50 L393.35 572.50 L393.86 572.50 L394.38 572.50 L394.89 572.50 L395.41 572.50 L395.92 572.50 L396.44 572.50 L396.95 572.50 L397.47 572.50 L397.98 572.50 L398.50 572.50 L450.50 572.50 L451.02 572.50 L451.53 572.50 L452.05 572.50 L452.56 572.50 L453.08 572.50 L453.59 572.50 L454.11 572.50 L454.62 572.50 L455.14 572.50 L455.65 572.50 L456.17 572.50 L456.68 572.50 L457.20 572.50 L457.71 572.50 L458.23 572.50 L458.74 572.50 L459.26 571.58 L459.77 571.42 L460.29 571.23 L460.80 571.01 L461.32 570.75 L461.83 570.45 L462.35 570.09 L462.86 569.67 L463.38 569.19 L463.89 568.62 L464.41 567.96 L464.92 567.18 L465.44 566.28 L465.95 565.24 L466.47 564.02 L466.98 562.62 L467.50 561.00 L468.02 559.14 L468.53 557.00 L469.05 554.55 L469.56 551.77 L470.08 548.63 L470.59 545.09 L471.11 541.13 L471.62 536.74 L472.14 531.91 L472.65 526.63 L473.17 520.93 L473.68 514.83 L474.20 508.38 L474.71 501.64 L475.23 494.68 L475.74 487.57 L476.26 480.43 L476.77 473.32 L477.29 466.36 L477.80 459.62 L478.32 453.17 L478.83 447.07 L479.35 441.37 L479.86 436.09 L480.38 431.26 L480.89 426.87 L481.41 422.91 L481.92 419.37 L482.44 416.23 L482.95 413.45 L483.47 411.00 L483.98 408.86 L484.50 407.00 L485.02 405.38 L485.53 403.98 L486.05 402.76 L486.56 401.72 L487.08 400.82 L487.59 400.04 L488.11 399.38 L488.62 398.81 L489.14 398.33 L489.65 397.91 L490.17 397.55 L490.68 397.25 L491.20 396.99 L491.71 396.77 L492.23 396.58 L492.74 396.42 L493.26 395.50 L493.77 395.50 L494.29 395.50 L494.80 395.50 L495.32 395.50 L495.83 395.50 L496.35 395.50 L496.86 395.50 L497.38 395.50 L497.89 395.50 L498.41 395.50 L498.92 395.50 L499.44 395.50 L499.95 395.50 L500.47 395.50 L500.98 395.50 L501.50 395.50 L502.02 395.50 L502.53 395.50 L503.05 395.50 L503.56 395.50 L504.08 395.50 L504.59 395.50 L505.11 395.50 L505.62 395.50 L506.14 395.50 L506.65 395.50 L507.17 395.50 L507.68 395.50 L508.20 395.50 L508.71 395.50 L509.23 395.50 L509.74 395.50 L510.26 395.50 L510.77 395.50 L511.29 395.50 L511.80 395.50 L512.32 394.62 L512.83 394.47 L513.35 394.29 L513.86 394.08 L514.38 393.83 L514.89 393.55 L515.41 393.22 L515.92 392.83 L516.44 392.37 L516.95 391.85 L517.47 391.24 L517.98 390.53 L518.50 389.72 L519.02 388.78 L519.53 387.70 L520.05 386.48 L520.56 385.08 L521.08 383.50 L521.59 381.72 L522.11 379.73 L522.62 377.52 L523.14 375.09 L523.65 372.44 L524.17 369.57 L524.68 366.50 L525.20 363.26 L525.71 359.87 L526.23 356.37 L526.74 352.80 L527.26 349.20 L527.77 345.63 L528.29 342.13 L528.80 338.74 L529.32 335.50 L529.83 332.43 L530.35 329.56 L530.86 326.91 L531.38 324.48 L531.89 322.27 L532.41 320.28 L532.92 318.50 L533.44 316.92 L533.95 315.52 L534.47 314.30 L534.98 313.22 L535.50 312.28 L536.02 311.47 L536.53 310.76 L537.05 310.15 L537.56 309.63 L538.08 309.17 L538.59 308.78 L539.11 308.45 L539.62 308.17 L540.14 307.92 L540.65 307.71 L541.17 307.53 L541.68 307.38 L542.20 306.50 L542.71 306.50 L543.23 306.50 L543.74 306.50 L544.26 306.50 L544.77 306.50 L545.29 306.50 L545.80 306.50 L546.32 306.50 L546.83 306.50 L547.35 306.50 L547.86 306.50 L548.38 306.50 L548.89 306.50 L549.41 306.50 L549.92 306.50 L550.44 306.50 L550.95 306.50 L551.47 306.50 L551.98 306.50 L552.50 306.50 L553.02 306.50 L553.53 306.50 L554.05 306.50 L554.56 306.50 L555.08 306.50 L555.59 306.50 L556.11 306.50 L556.62 306.50 L557.14 306.50 L557.65 306.50 L558.17 306.50 L558.68 306.50 L559.20 306.50 L559.71 306.50 L560.23 306.50 L560.74 306.50 L561.26 307.42 L561.77 307.58 L562.29 307.77 L562.80 307.99 L563.32 308.25 L563.83 308.55 L564.35 308.91 L564.86 309.33 L565.38 309.81 L565.89 310.38 L566.41 311.04 L566.92 311.82 L567.44 312.72 L567.95 313.76 L568.47 314.98 L568.98 316.38 L569.50 318.00 L570.02 319.86 L570.53 322.00 L571.05 324.45 L571.56 327.23 L572.08 330.37 L572.59 333.91 L573.11 337.87 L573.62 342.26 L574.14 347.09 L574.65 352.37 L575.17 358.07 L575.68 364.17 L576.20 370.62 L576.71 377.36 L577.23 384.32 L577.74 391.43 L578.26 398.57 L578.77 405.68 L579.29 412.64 L579.80 419.38 L580.32 425.83 L580.83 431.93 L581.35 437.63 L581.86 442.91 L582.38 447.74 L582.89 452.13 L583.41 456.09 L583.92 459.63 L584.44 462.77 L584.95 465.55 L585.47 468.00 L585.98 470.14 L586.50 472.00 L587.02 473.62 L587.53 475.02 L588.05 476.24 L588.56 477.28 L589.08 478.18 L589.59 478.96 L590.11 479.62 L590.62 480.19 L591.14 480.67 L591.65 481.09 L592.17 481.45 L592.68 481.75 L593.20 482.01 L593.71 482.23 L594.23 482.42 L594.74 482.58 L595.26 483.50 L595.77 483.50 L596.29 483.50 L596.80 483.50 L597.32 483.50 L597.83 483.50 L598.35 483.50 L598.86 483.50 L599.38 483.50 L599.89 483.50 L600.41 483.50 L600.92 483.50 L601.44 483.50 L601.95 483.50 L602.47 483.50 L602.98 483.50 L603.50 483.50 L604.03 483.50 L604.55 483.50 L605.08 483.50 L605.60 483.50 L606.13 483.50 L606.65 483.50 L607.18 483.50 L607.70 483.50 L608.23 483.50 L608.75 483.50 L609.28 483.50 L609.80 483.50 L610.33 483.50 L610.85 483.50 L611.38 483.50 L611.90 483.50 L612.43 484.43 L612.95 484.59 L613.48 484.78 L614.01 485.00 L614.53 485.26 L615.06 485.57 L615.58 485.92 L616.11 486.34 L616.63 486.83 L617.16 487.40 L617.68 488.07 L618.21 488.85 L618.73 489.75 L619.26 490.80 L619.78 492.02 L620.31 493.44 L620.83 495.06 L621.36 496.94 L621.88 499.09 L622.41 501.55 L622.93 504.34 L623.46 507.51 L623.98 511.07 L624.51 515.04 L625.04 519.46 L625.56 524.32 L626.09 529.62 L626.61 535.36 L627.14 541.49 L627.66 547.98 L628.19 554.76 L628.71 561.76 L629.24 568.91 L629.76 576.09 L630.29 583.24 L630.81 590.24 L631.34 597.02 L631.86 603.51 L632.39 609.64 L632.91 615.38 L633.44 620.68 L633.96 625.54 L634.49 629.96 L635.02 633.93 L635.54 637.49 L636.07 640.66 L636.59 643.45 L637.12 645.91 L637.64 648.06 L638.17 649.94 L638.69 651.56 L639.22 652.98 L639.74 654.20 L640.27 655.25 L640.79 656.15 L641.32 656.93 L641.84 657.60 L642.37 658.17 L642.89 658.66 L643.42 659.08 L643.94 659.43 L644.47 659.74 L644.99 660.00 L645.52 660.22 L646.05 660.41 L646.57 660.57 L647.10 661.50 L647.62 661.50 L648.15 661.50 L648.67 661.50 L649.20 661.50 L649.72 661.50 L650.25 661.50 L650.77 661.50 L651.30 661.50 L651.82 661.50 L652.35 661.50 L652.87 661.50 L653.40 661.50 L653.92 661.50 L654.45 661.50 L654.97 661.50 L655.50 661.50 L656.02 661.50 L656.53 661.50 L657.05 661.50 L657.56 661.50 L658.08 661.50 L658.59 661.50 L659.11 661.50 L659.62 661.50 L660.14 661.50 L660.65 661.50 L661.17 661.50 L661.68 661.50 L662.20 661.50 L662.71 661.50 L663.23 661.50 L663.74 661.50 L664.26 660.57 L664.77 660.41 L665.29 660.22 L665.80 660.00 L666.32 659.74 L666.83 659.43 L667.35 659.08 L667.86 658.66 L668.38 658.17 L668.89 657.60 L669.41 656.93 L669.92 656.15 L670.44 655.25 L670.95 654.20 L671.47 652.98 L671.98 651.56 L672.50 649.94 L673.02 648.06 L673.53 645.91 L674.05 643.45 L674.56 640.66 L675.08 637.49 L675.59 633.93 L676.11 629.96 L676.62 625.54 L677.14 620.68 L677.65 615.38 L678.17 609.64 L678.68 603.51 L679.20 597.02 L679.71 590.24 L680.23 583.24 L680.74 576.09 L681.26 568.91 L681.77 561.76 L682.29 554.76 L682.80 547.98 L683.32 541.49 L683.83 535.36 L684.35 529.62 L684.86 524.32 L685.38 519.46 L685.89 515.04 L686.41 511.07 L686.92 507.51 L687.44 504.34 L687.95 501.55 L688.47 499.09 L688.98 496.94 L689.50 495.06 L690.02 493.44 L690.53 492.02 L691.05 490.80 L691.56 489.75 L692.08 488.85 L692.59 488.07 L693.11 487.40 L693.62 486.83 L694.14 486.34 L694.65 485.92 L695.17 485.57 L695.68 485.26 L696.20 485.00 L696.71 484.78 L697.23 484.59 L697.74 484.43 L698.26 483.50 L698.77 483.50 L699.29 483.50 L699.80 483.50 L700.32 483.50 L700.83 483.50 L701.35 483.50 L701.86 483.50 L702.38 483.50 L702.89 483.50 L703.41 483.50 L703.92 483.50 L704.44 483.50 L704.95 483.50 L705.47 483.50 L705.98 483.50 L706.50 483.50 L707.02 483.50 L707.53 483.50 L708.05 483.50 L708.56 483.50 L709.08 483.50 L709.59 483.50 L710.11 483.50 L710.62 483.50 L711.14 483.50 L711.65 483.50 L712.17 483.50 L712.68 483.50 L713.20 483.50 L713.71 484.36 L714.23 484.51 L714.74 484.68 L715.26 484.89 L715.77 485.13 L716.29 485.42 L716.80 485.75 L717.32 486.14 L717.83 486.60 L718.35 487.14 L718.86 487.76 L719.38 488.50 L719.89 489.35 L720.41 490.35 L720.92 491.52 L721.44 492.88 L721.95 494.46 L722.47 496.29 L722.98 498.40 L723.50 500.85 L724.02 503.66 L724.53 506.89 L725.05 510.57 L725.56 514.77 L726.08 519.51 L726.59 524.85 L727.11 530.82 L727.62 537.44 L728.14 544.73 L728.65 552.69 L729.17 561.29 L729.68 570.49 L730.20 580.22 L730.71 590.39 L731.23 600.90 L731.74 611.61 L732.26 622.39 L732.77 633.10 L733.29 643.61 L733.80 653.78 L734.32 663.51 L734.83 672.71 L735.35 681.31 L735.86 689.27 L736.38 696.56 L736.89 703.18 L737.41 709.15 L737.92 714.49 L738.44 719.23 L738.95 723.43 L739.47 727.11 L739.98 730.34 L740.50 733.15 L741.02 735.60 L741.53 737.71 L742.05 739.54 L742.56 741.12 L743.08 742.48 L743.59 743.65 L744.11 744.65 L744.62 745.50 L745.14 746.24 L745.65 746.86 L746.17 747.40 L746.68 747.86 L747.20 748.25 L747.71 748.58 L748.23 748.87 L748.74 749.11 L749.26 749.32 L749.77 749.49 L750.29 749.64 L750.80 750.50 L751.32 750.50 L751.83 750.50 L752.35 750.50 L752.86 750.50 L753.38 750.50 L753.89 750.50 L754.41 750.50 L754.92 750.50 L755.44 750.50 L755.95 750.50 L756.47 750.50 L756.98 750.50 L757.50 750.50 L758.02 750.50 L758.53 750.50 L759.05 750.50 L759.56 750.50 L760.08 750.50 L760.59 750.50 L761.11 750.50 L761.62 750.50 L762.14 750.50 L762.65 750.50 L763.17 750.50 L763.68 750.50 L764.20 750.50 L764.71 750.50 L765.23 750.50 L765.74 750.50 L766.26 749.57 L766.77 749.41 L767.29 749.22 L767.80 749.00 L768.32 748.74 L768.83 748.43 L769.35 748.08 L769.86 747.66 L770.38 747.17 L770.89 746.60 L771.41 745.93 L771.92 745.15 L772.44 744.25 L772.95 743.20 L773.47 741.98 L773.98 740.56 L774.50 738.94 L775.02 737.06 L775.53 734.91 L776.05 732.45 L776.56 729.66 L777.08 726.49 L777.59 722.93 L778.11 718.96 L778.62 714.54 L779.14 709.68 L779.65 704.38 L780.17 698.64 L780.68 692.51 L781.20 686.02 L781.71 679.24 L782.23 672.24 L782.74 665.09 L783.26 657.91 L783.77 650.76 L784.29 643.76 L784.80 636.98 L785.32 630.49 L785.83 624.36 L786.35 618.62 L786.86 613.32 L787.38 608.46 L787.89 604.04 L788.41 600.07 L788.92 596.51 L789.44 593.34 L789.95 590.55 L790.47 588.09 L790.98 585.94 L791.50 584.06 L792.02 582.44 L792.53 581.02 L793.05 579.80 L793.56 578.75 L794.08 577.85 L794.59 577.07 L795.11 576.40 L795.62 575.83 L796.14 575.34 L796.65 574.92 L797.17 574.57 L797.68 574.26 L798.20 574.00 L798.71 573.78 L799.23 573.59 L799.74 573.43 L800.26 572.50 L800.77 572.50 L801.29 572.50 L801.80 572.50 L802.32 572.50 L802.83 572.50 L803.35 572.50 L803.86 572.50 L804.38 572.50 L804.89 572.50 L805.41 572.50 L805.92 572.50 L806.44 572.50 L806.95 572.50 L807.47 572.50 L807.98 572.50 L808.50 572.50 L809.03 572.50 L809.55 572.50 L810.08 572.50 L810.60 572.50 L811.13 572.50 L811.65 572.50 L812.18 572.50 L812.70 572.50 L813.23 572.50 L813.75 572.50 L814.28 572.50 L814.80 572.50 L815.33 572.50 L815.85 573.35 L816.38 573.50 L816.90 573.68 L817.43 573.89 L817.95 574.13 L818.48 574.41 L819.01 574.74 L819.53 575.13 L820.06 575.59 L820.58 576.12 L821.11 576.75 L821.63 577.48 L822.16 578.33 L822.68 579.33 L823.21 580.49 L823.73 581.84 L824.26 583.41 L824.78 585.24 L825.31 587.35 L825.83 589.78 L826.36 592.58 L826.88 595.80 L827.41 599.47 L827.93 603.65 L828.46 608.37 L828.98 613.69 L829.51 619.64 L830.04 626.24 L830.56 633.50 L831.09 641.43 L831.61 650.00 L832.14 659.16 L832.66 668.86 L833.19 678.99 L833.71 689.46 L834.24 700.13 L834.76 710.87 L835.29 721.54 L835.81 732.01 L836.34 742.14 L836.86 751.84 L837.39 761.00 L837.91 769.57 L838.44 777.50 L838.96 784.76 L839.49 791.36 L840.02 797.31 L840.54 802.63 L841.07 807.35 L841.59 811.53 L842.12 815.20 L842.64 818.42 L843.17 821.22 L843.69 823.65 L844.22 825.76 L844.74 827.59 L845.27 829.16 L845.79 830.51 L846.32 831.67 L846.84 832.67 L847.37 833.52 L847.89 834.25 L848.42 834.88 L848.94 835.41 L849.47 835.87 L849.99 836.26 L850.52 836.59 L851.05 836.87 L851.57 837.11 L852.10 837.32 L852.62 837.50 L853.15 837.65 L853.67 838.50 L854.20 838.50 L854.72 838.50 L855.25 838.50 L855.77 838.50 L856.30 838.50 L856.82 838.50 L857.35 838.50 L857.87 838.50 L858.40 838.50 L858.92 838.50 L859.45 838.50 L859.97 838.50 L860.50 838.50"/>
<path stroke="#EE8C78" d="M296.50 39.50 L347.50 39.50 L398.50 39.50 L450.50 39.50 L501.50 39.50 L552.50 39.50 L603.50 39.50 L655.50 39.50 L706.50 39.50 L757.50 39.50 L808.50 39.50 L860.50 39.50 L861.02 39.50 L861.53 39.50 L862.05 39.50 L862.56 39.50 L863.08 39.50 L863.59 39.50 L864.11 39.50 L864.62 39.50 L865.14 39.50 L865.65 39.50 L866.17 39.50 L866.68 39.50 L867.20 39.50 L867.71 39.50 L868.23 39.50 L868.74 39.50 L869.26 39.50 L869.77 39.50 L870.29 39.50 L870.80 39.50 L871.32 40.38 L871.83 40.53 L872.35 40.71 L872.86 40.92 L873.38 41.17 L873.89 41.45 L874.41 41.78 L874.92 42.17 L875.44 42.63 L875.95 43.15 L876.47 43.76 L876.98 44.47 L877.50 45.28 L878.02 46.22 L878.53 47.30 L879.05 48.52 L879.56 49.92 L880.08 51.50 L880.59 53.28 L881.11 55.27 L881.62 57.48 L882.14 59.91 L882.65 62.56 L883.17 65.43 L883.68 68.50 L884.20 71.74 L884.71 75.13 L885.23 78.63 L885.74 82.20 L886.26 85.80 L886.77 89.37 L887.29 92.87 L887.80 96.26 L888.32 99.50 L888.83 102.57 L889.35 105.44 L889.86 108.09 L890.38 110.52 L890.89 112.73 L891.41 114.72 L891.92 116.50 L892.44 118.08 L892.95 119.48 L893.47 120.70 L893.98 121.78 L894.50 122.72 L895.02 123.53 L895.53 124.24 L896.05 124.85 L896.56 125.37 L897.08 125.83 L897.59 126.22 L898.11 126.55 L898.62 126.83 L899.14 127.08 L899.65 127.29 L900.17 127.47 L900.68 127.62 L901.20 128.50 L901.71 128.50 L902.23 128.50 L902.74 128.50 L903.26 128.50 L903.77 128.50 L904.29 128.50 L904.80 128.50 L905.32 128.50 L905.83 128.50 L906.35 128.50 L906.86 128.50 L907.38 128.50 L907.89 128.50 L908.41 128.50 L908.92 128.50 L909.44 128.50 L909.95 128.50 L910.47 128.50 L910.98 128.50 L911.50 128.50 L912.02 128.50 L912.53 128.50 L913.05 128.50 L913.56 128.50 L914.08 128.50 L914.59 128.50 L915.11 128.50 L915.62 128.50 L916.14 128.50 L916.65 128.50 L917.17 128.50 L917.68 128.50 L918.20 128.50 L918.71 128.50 L919.23 128.50 L919.74 128.50 L920.26 128.50 L920.77 128.50 L921.29 128.50 L921.80 128.50 L922.32 127.62 L922.83 127.47 L923.35 127.29 L923.86 127.08 L924.38 126.83 L924.89 126.55 L925.41 126.22 L925.92 125.83 L926.44 125.37 L926.95 124.85 L927.47 124.24 L927.98 123.53 L928.50 122.72 L929.02 121.78 L929.53 120.70 L930.05 119.48 L930.56 118.08 L931.08 116.50 L931.59 114.72 L932.11 112.73 L932.62 110.52 L933.14 108.09 L933.65 105.44 L934.17 102.57 L934.68 99.50 L935.20 96.26 L935.71 92.87 L936.23 89.37 L936.74 85.80 L937.26 82.20 L937.77 78.63 L938.29 75.13 L938.80 71.74 L939.32 68.50 L939.83 65.43 L940.35 62.56 L940.86 59.91 L941.38 57.48 L941.89 55.27 L942.41 53.28 L942.92 51.50 L943.44 49.92 L943.95 48.52 L944.47 47.30 L944.98 46.22 L945.50 45.28 L946.02 44.47 L946.53 43.76 L947.05 43.15 L947.56 42.63 L948.08 42.17 L948.59 41.78 L949.11 41.45 L949.62 41.17 L950.14 40.92 L950.65 40.71 L951.17 40.53 L951.68 40.38 L952.20 39.50 L952.71 39.50 L953.23 39.50 L953.74 39.50 L954.26 39.50 L954.77 39.50 L955.29 39.50 L955.80 39.50 L956.32 39.50 L956.83 39.50 L957.35 39.50 L957.86 39.50 L958.38 39.50 L958.89 39.50 L959.41 39.50 L959.92 39.50 L960.44 39.50 L960.95 39.50 L961.47 39.50 L961.98 39.50 L962.50 39.50"/>
<path stroke="#B96B9A" d="M296.50 128.50 L297.02 128.50 L297.53 128.50 L298.05 128.50 L298.56 128.50 L299.08 128.50 L299.59 128.50 L300.11 128.50 L300.62 128.50 L301.14 128.50 L301.65 128.50 L302.17 128.50 L302.68 128.50 L303.20 128.50 L303.71 128.50 L304.23 128.50 L304.74 128.50 L305.26 128.50 L305.77 128.50 L306.29 128.50 L306.80 128.50 L307.32 129.38 L307.83 129.53 L308.35 129.71 L308.86 129.92 L309.38 130.17 L309.89 130.45 L310.41 130.78 L310.92 131.17 L311.44 131.63 L311.95 132.15 L312.47 132.76 L312.98 133.47 L313.50 134.28 L314.02 135.22 L314.53 136.30 L315.05 137.52 L315.56 138.92 L316.08 140.50 L316.59 142.28 L317.11 144.27 L317.62 146.48 L318.14 148.91 L318.65 151.56 L319.17 154.43 L319.68 157.50 L320.20 160.74 L320.71 164.13 L321.23 167.63 L321.74 171.20 L322.26 174.80 L322.77 178.37 L323.29 181.87 L323.80 185.26 L324.32 188.50 L324.83 191.57 L325.35 194.44 L325.86 197.09 L326.38 199.52 L326.89 201.73 L327.41 203.72 L327.92 205.50 L328.44 207.08 L328.95 208.48 L329.47 209.70 L329.98 210.78 L330.50 211.72 L331.02 212.53 L331.53 213.24 L332.05 213.85 L332.56 214.37 L333.08 214.83 L333.59 215.22 L334.11 215.55 L334.62 215.83 L335.14 216.08 L335.65 216.29 L336.17 216.47 L336.68 216.62 L337.20 217.50 L337.71 217.50 L338.23 217.50 L338.74 217.50 L339.26 217.50 L339.77 217.50 L340.29 217.50 L340.80 217.50 L341.32 217.50 L341.83 217.50 L342.35 217.50 L342.86 217.50 L343.38 217.50 L343.89 217.50 L344.41 217.50 L344.92 217.50 L345.44 217.50 L345.95 217.50 L346.47 217.50 L346.98 217.50 L347.50 217.50 L398.50 217.50 L399.03 217.50 L399.55 217.50 L400.08 217.50 L400.60 217.50 L401.13 217.50 L401.65 217.50 L402.18 217.50 L402.70 217.50 L403.23 217.50 L403.75 217.50 L404.28 217.50 L404.80 217.50 L405.33 217.50 L405.85 217.50 L406.38 217.50 L406.90 217.50 L407.43 217.50 L407.95 217.50 L408.48 217.50 L409.01 217.50 L409.53 216.62 L410.06 216.47 L410.58 216.29 L411.11 216.08 L411.63 215.83 L412.16 215.55 L412.68 215.22 L413.21 214.83 L413.73 214.37 L414.26 213.85 L414.78 213.24 L415.31 212.53 L415.83 211.72 L416.36 210.78 L416.88 209.70 L417.41 208.48 L417.93 207.08 L418.46 205.50 L418.98 203.72 L419.51 201.73 L420.04 199.52 L420.56 197.09 L421.09 194.44 L421.61 191.57 L422.14 188.50 L422.66 185.26 L423.19 181.87 L423.71 178.37 L424.24 174.80 L424.76 171.20 L425.29 167.63 L425.81 164.13 L426.34 160.74 L426.86 157.50 L427.39 154.43 L427.91 151.56 L428.44 148.91 L428.96 146.48 L429.49 144.27 L430.02 142.28 L430.54 140.50 L431.07 138.92 L431.59 137.52 L432.12 136.30 L432.64 135.22 L433.17 134.28 L433.69 133.47 L434.22 132.76 L434.74 132.15 L435.27 131.63 L435.79 131.17 L436.32 130.78 L436.84 130.45 L437.37 130.17 L437.89 129.92 L438.42 129.71 L438.94 129.53 L439.47 129.38 L439.99 128.50 L440.52 128.50 L441.05 128.50 L441.57 128.50 L442.10 128.50 L442.62 128.50 L443.15 128.50 L443.67 128.50 L444.20 128.50 L444.72 128.50 L445.25 128.50 L445.77 128.50 L446.30 128.50 L446.82 128.50 L447.35 128.50 L447.87 128.50 L448.40 128.50 L448.92 128.50 L449.45 128.50 L449.97 128.50 L450.50 128.50 L451.02 128.50 L451.53 128.50 L452.05 128.50 L452.56 128.50 L453.08 128.50 L453.59 128.50 L454.11 128.50 L454.62 128.50 L455.14 128.50 L455.65 128.50 L456.17 128.50 L456.68 128.50 L457.20 128.50 L457.71 128.50 L458.23 128.50 L458.74 128.50 L459.26 128.50 L459.77 128.50 L460.29 128.50 L460.80 128.50 L461.32 129.38 L461.83 129.53 L462.35 129.71 L462.86 129.92 L463.38 130.17 L463.89 130.45 L464.41 130.78 L464.92 131.17 L465.44 131.63 L465.95 132.15 L466.47 132.76 L466.98 133.47 L467.50 134.28 L468.02 135.22 L468.53 136.30 L469.05 137.52 L469.56 138.92 L470.08 140.50 L470.59 142.28 L471.11 144.27 L471.62 146.48 L472.14 148.91 L472.65 151.56 L473.17 154.43 L473.68 157.50 L474.20 160.74 L474.71 164.13 L475.23 167.63 L475.74 171.20 L476.26 174.80 L476.77 178.37 L477.29 181.87 L477.80 185.26 L478.32 188.50 L478.83 191.57 L479.35 194.44 L479.86 197.09 L480.38 199.52 L480.89 201.73 L481.41 203.72 L481.92 205.50 L482.44 207.08 L482.95 208.48 L483.47 209.70 L483.98 210.78 L484.50 211.72 L485.02 212.53 L485.53 213.24 L486.05 213.85 L486.56 214.37 L487.08 214.83 L487.59 215.22 L488.11 215.55 L488.62 215.83 L489.14 216.08 L489.65 216.29 L490.17 216.47 L490.68 216.62 L491.20 217.50 L491.71 217.50 L492.23 217.50 L492.74 217.50 L493.26 217.50 L493.77 217.50 L494.29 217.50 L494.80 217.50 L495.32 217.50 L495.83 217.50 L496.35 217.50 L496.86 217.50 L497.38 217.50 L497.89 217.50 L498.41 217.50 L498.92 217.50 L499.44 217.50 L499.95 217.50 L500.47 217.50 L500.98 217.50 L501.50 217.50 L552.50 217.50 L603.50 217.50 L604.03 217.50 L604.55 217.50 L605.08 217.50 L605.60 217.50 L606.13 217.50 L606.65 217.50 L607.18 217.50 L607.70 217.50 L608.23 217.50 L608.75 217.50 L609.28 217.50 L609.80 217.50 L610.33 217.50 L610.85 217.50 L611.38 217.50 L611.90 217.50 L612.43 217.50 L612.95 217.50 L613.48 217.50 L614.01 217.50 L614.53 216.62 L615.06 216.47 L615.58 216.29 L616.11 216.08 L616.63 215.83 L617.16 215.55 L617.68 215.22 L618.21 214.83 L618.73 214.37 L619.26 213.85 L619.78 213.24 L620.31 212.53 L620.83 211.72 L621.36 210.78 L621.88 209.70 L622.41 208.48 L622.93 207.08 L623.46 205.50 L623.98 203.72 L624.51 201.73 L625.04 199.52 L625.56 197.09 L626.09 194.44 L626.61 191.57 L627.14 188.50 L627.66 185.26 L628.19 181.87 L628.71 178.37 L629.24 174.80 L629.76 171.20 L630.29 167.63 L630.81 164.13 L631.34 160.74 L631.86 157.50 L632.39 154.43 L632.91 151.56 L633.44 148.91 L633.96 146.48 L634.49 144.27 L635.02 142.28 L635.54 140.50 L636.07 138.92 L636.59 137.52 L637.12 136.30 L637.64 135.22 L638.17 134.28 L638.69 133.47 L639.22 132.76 L639.74 132.15 L640.27 131.63 L640.79 131.17 L641.32 130.78 L641.84 130.45 L642.37 130.17 L642.89 129.92 L643.42 129.71 L643.94 129.53 L644.47 129.38 L644.99 128.50 L645.52 128.50 L646.05 128.50 L646.57 128.50 L647.10 128.50 L647.62 128.50 L648.15 128.50 L648.67 128.50 L649.20 128.50 L649.72 128.50 L650.25 128.50 L650.77 128.50 L651.30 128.50 L651.82 128.50 L652.35 128.50 L652.87 128.50 L653.40 128.50 L653.92 128.50 L654.45 128.50 L654.97 128.50 L655.50 128.50 L706.50 128.50 L757.50 128.50 L808.50 128.50 L809.03 128.50 L809.55 128.50 L810.08 128.50 L810.60 128.50 L811.13 128.50 L811.65 128.50 L812.18 128.50 L812.70 128.50 L813.23 128.50 L813.75 128.50 L814.28 128.50 L814.80 128.50 L815.33 128.50 L815.85 128.50 L816.38 128.50 L816.90 128.50 L817.43 128.50 L817.95 128.50 L818.48 128.50 L819.01 128.50 L819.53 129.38 L820.06 129.53 L820.58 129.71 L821.11 129.92 L821.63 130.17 L822.16 130.45 L822.68 130.78 L823.21 131.17 L823.73 131.63 L824.26 132.15 L824.78 132.76 L825.31 133.47 L825.83 134.28 L826.36 135.22 L826.88 136.30 L827.41 137.52 L827.93 138.92 L828.46 140.50 L828.98 142.28 L829.51 144.27 L830.04 146.48 L830.56 148.91 L831.09 151.56 L831.61 154.43 L832.14 157.50 L832.66 160.74 L833.19 164.13 L833.71 167.63 L834.24 171.20 L834.76 174.80 L835.29 178.37 L835.81 181.87 L836.34 185.26 L836.86 188.50 L837.39 191.57 L837.91 194.44 L838.44 197.09 L838.96 199.52 L839.49 201.73 L840.02 203.72 L840.54 205.50 L841.07 207.08 L841.59 208.48 L842.12 209.70 L842.64 210.78 L843.17 211.72 L843.69 212.53 L844.22 213.24 L844.74 213.85 L845.27 214.37 L845.79 214.83 L846.32 215.22 L846.84 215.55 L847.37 215.83 L847.89 216.08 L848.42 216.29 L848.94 216.47 L849.47 216.62 L849.99 217.50 L850.52 217.50 L851.05 217.50 L851.57 217.50 L852.10 217.50 L852.62 217.50 L853.15 217.50 L853.67 217.50 L854.20 217.50 L854.72 217.50 L855.25 217.50 L855.77 217.50 L856.30 217.50 L856.82 217.50 L857.35 217.50 L857.87 217.50 L858.40 217.50 L858.92 217.50 L859.45 217.50 L859.97 217.50 L860.50 217.50 L861.02 217.50 L861.53 217.50 L862.05 217.50 L862.56 217.50 L863.08 217.50 L863.59 217.50 L864.11 217.50 L864.62 217.50 L865.14 217.50 L865.65 217.50 L866.17 217.50 L866.68 217.50 L867.20 217.50 L867.71 217.50 L868.23 217.50 L868.74 217.50 L869.26 217.50 L869.77 217.50 L870.29 217.50 L870.80 217.50 L871.32 218.38 L871.83 218.53 L872.35 218.71 L872.86 218.92 L873.38 219.17 L873.89 219.45 L874.41 219.78 L874.92 220.17 L875.44 220.63 L875.95 221.15 L876.47 221.76 L876.98 222.47 L877.50 223.28 L878.02 224.22 L878.53 225.30 L879.05 226.52 L879.56 227.92 L880.08 229.50 L880.59 231.28 L881.11 233.27 L881.62 235.48 L882.14 237.91 L882.65 240.56 L883.17 243.43 L883.68 246.50 L884.20 249.74 L884.71 253.13 L885.23 256.63 L885.74 260.20 L886.26 263.80 L886.77 267.37 L887.29 270.87 L887.80 274.26 L888.32 277.50 L888.83 280.57 L889.35 283.44 L889.86 286.09 L890.38 288.52 L890.89 290.73 L891.41 292.72 L891.92 294.50 L892.44 296.08 L892.95 297.48 L893.47 298.70 L893.98 299.78 L894.50 300.72 L895.02 301.53 L895.53 302.24 L896.05 302.85 L896.56 303.37 L897.08 303.83 L897.59 304.22 L898.11 304.55 L898.62 304.83 L899.14 305.08 L899.65 305.29 L900.17 305.47 L900.68 305.62 L901.20 306.50 L901.71 306.50 L902.23 306.50 L902.74 306.50 L903.26 306.50 L903.77 306.50 L904.29 306.50 L904.80 306.50 L905.32 306.50 L905.83 306.50 L906.35 306.50 L906.86 306.50 L907.38 306.50 L907.89 306.50 L908.41 306.50 L908.92 306.50 L909.44 306.50 L909.95 306.50 L910.47 306.50 L910.98 306.50 L911.50 306.50 L912.02 306.50 L912.53 306.50 L913.05 306.50 L913.56 306.50 L914.08 306.50 L914.59 306.50 L915.11 306.50 L915.62 306.50 L916.14 306.50 L916.65 306.50 L917.17 306.50 L917.68 306.50 L918.20 306.50 L918.71 306.50 L919.23 306.50 L919.74 306.50 L920.26 305.57 L920.77 305.41 L921.29 305.22 L921.80 305.00 L922.32 304.74 L922.83 304.43 L923.35 304.08 L923.86 303.66 L924.38 303.17 L924.89 302.60 L925.41 301.93 L925.92 301.15 L926.44 300.25 L926.95 299.20 L927.47 297.98 L927.98 296.56 L928.50 294.94 L929.02 293.06 L929.53 290.91 L930.05 288.45 L930.56 285.66 L931.08 282.49 L931.59 278.93 L932.11 274.96 L932.62 270.54 L933.14 265.68 L933.65 260.38 L934.17 254.64 L934.68 248.51 L935.20 242.02 L935.71 235.24 L936.23 228.24 L936.74 221.09 L937.26 213.91 L937.77 206.76 L938.29 199.76 L938.80 192.98 L939.32 186.49 L939.83 180.36 L940.35 174.62 L940.86 169.32 L941.38 164.46 L941.89 160.04 L942.41 156.07 L942.92 152.51 L943.44 149.34 L943.95 146.55 L944.47 144.09 L944.98 141.94 L945.50 140.06 L946.02 138.44 L946.53 137.02 L947.05 135.80 L947.56 134.75 L948.08 133.85 L948.59 133.07 L949.11 132.40 L949.62 131.83 L950.14 131.34 L950.65 130.92 L951.17 130.57 L951.68 130.26 L952.20 130.00 L952.71 129.78 L953.23 129.59 L953.74 129.43 L954.26 128.50 L954.77 128.50 L955.29 128.50 L955.80 128.50 L956.32 128.50 L956.83 128.50 L957.35 128.50 L957.86 128.50 L958.38 128.50 L958.89 128.50 L959.41 128.50 L959.92 128.50 L960.44 128.50 L960.95 128.50 L961.47 128.50 L961.98 128.50 L962.50 128.50"/>
<path stroke="#F3AD52" d="M296.50 838.50 L299.85 838.50 L303.19 838.50 L306.54 838.50 L309.89 838.50 L313.23 838.50 L316.58 838.50 L319.93 838.50 L323.27 838.50 L326.62 838.50 L329.97 838.50 L333.31 838.50 L336.66 838.50 L340.01 838.50 L343.35 838.50 L346.70 838.50 L350.05 838.50 L353.39 838.50 L356.74 838.50 L360.09 838.50 L363.43 838.50 L366.78 838.50 L370.13 838.50 L373.47 838.50 L376.82 838.50 L380.17 838.50 L383.52 838.50 L386.86 838.50 L390.21 838.50 L393.56 838.50 L396.90 838.50 L400.25 838.50 L403.60 838.50 L406.94 838.50 L410.29 838.50 L413.64 838.50 L416.98 838.50 L420.33 838.50 L423.68 838.50 L427.02 838.50 L430.37 838.50 L433.72 838.50 L437.06 837.64 L440.41 837.57 L443.76 837.50 L447.10 837.41 L450.45 837.32 L453.80 837.23 L457.14 837.12 L460.49 837.01 L463.84 836.89 L467.18 836.75 L470.53 836.61 L473.88 836.46 L477.22 836.29 L480.57 836.11 L483.92 835.91 L487.26 835.70 L490.61 835.48 L493.96 835.24 L497.30 834.97 L500.65 834.69 L504.00 834.39 L507.34 834.06 L510.69 833.71 L514.04 833.33 L517.38 832.92 L520.73 832.49 L524.08 832.02 L527.42 831.52 L530.77 830.99 L534.12 830.42 L537.46 829.81 L540.81 829.16 L544.16 828.47 L547.51 827.73 L550.85 826.94 L554.20 826.11 L557.55 825.23 L560.89 824.30 L564.24 823.32 L567.59 822.28 L570.93 821.19 L574.28 820.04 L577.63 818.84 L580.97 817.59 L584.32 816.28 L587.67 814.92 L591.01 813.51 L594.36 812.04 L597.71 810.53 L601.05 808.98 L604.40 807.38 L607.75 805.74 L611.09 804.07 L614.44 802.37 L617.79 800.65 L621.13 798.91 L624.48 797.15 L627.83 795.38 L631.17 793.62 L634.52 791.85 L637.87 790.09 L641.21 788.35 L644.56 786.63 L647.91 784.93 L651.25 783.26 L654.60 781.62 L657.95 780.02 L661.29 778.47 L664.64 776.96 L667.99 775.49 L671.33 774.08 L674.68 772.72 L678.03 771.41 L681.37 770.16 L684.72 768.96 L688.07 767.81 L691.41 766.72 L694.76 765.68 L698.11 764.70 L701.45 763.77 L704.80 762.89 L708.15 762.06 L711.49 761.27 L714.84 760.53 L718.19 759.84 L721.54 759.19 L724.88 758.58 L728.23 758.01 L731.58 757.48 L734.92 756.98 L738.27 756.51 L741.62 756.08 L744.96 755.67 L748.31 755.29 L751.66 754.94 L755.00 754.61 L758.35 754.31 L761.70 754.03 L765.04 753.76 L768.39 753.52 L771.74 753.30 L775.08 753.09 L778.43 752.89 L781.78 752.71 L785.12 752.54 L788.47 752.39 L791.82 752.25 L795.16 752.11 L798.51 751.99 L801.86 751.88 L805.20 751.77 L808.55 751.68 L811.90 751.59 L815.24 751.50 L818.59 751.43 L821.94 751.36 L825.28 750.50 L828.63 750.50 L831.98 750.50 L835.32 750.50 L838.67 750.50 L842.02 750.50 L845.36 750.50 L848.71 750.50 L852.06 750.50 L855.40 750.50 L858.75 750.50 L862.10 750.50 L865.44 750.50 L868.79 750.50 L872.14 750.50 L875.48 750.50 L878.83 750.50 L882.18 750.50 L885.53 750.50 L888.87 750.50 L892.22 750.50 L895.57 750.50 L898.91 750.50 L902.26 750.50 L905.61 750.50 L908.95 750.50 L912.30 750.50 L915.65 750.50 L918.99 750.50 L922.34 750.50 L925.69 750.50 L929.03 750.50 L932.38 750.50 L935.73 750.50 L939.07 750.50 L942.42 750.50 L945.77 750.50 L949.11 750.50 L952.46 750.50 L955.81 750.50 L959.15 750.50 L962.50 750.50"/>
</g>
<g clip-path="url(#pc)" shape-rendering="crispEdges" fill="#fff" stroke-width="6.6">
<circle cx="296.50" cy="661.50" r="8.80" stroke="#D96E8C"/>
<circle cx="347.50" cy="661.50" r="8.70" stroke="#D96E8C"/>
<circle cx="398.50" cy="661.50" r="8.80" stroke="#D96E8C"/>
<circle cx="450.50" cy="750.50" r="9.10" stroke="#D96E8C"/>
<circle cx="501.50" cy="661.50" r="10.50" stroke="#D96E8C"/>
<circle cx="552.50" cy="838.50" r="12.00" stroke="#D96E8C"/>
<circle cx="603.50" cy="838.50" r="10.60" stroke="#D96E8C"/>
<circle cx="962.50" cy="838.50" r="13.20" stroke="#D96E8C"/>
<circle cx="552.50" cy="750.50" r="11.60" stroke="#A068A2"/>
<circle cx="603.50" cy="661.50" r="11.90" stroke="#A068A2"/>
<circle cx="655.50" cy="750.50" r="11.20" stroke="#A068A2"/>
<circle cx="706.50" cy="838.50" r="11.90" stroke="#A068A2"/>
<circle cx="757.50" cy="838.50" r="12.40" stroke="#A068A2"/>
<circle cx="808.50" cy="750.50" r="12.30" stroke="#A068A2"/>
<circle cx="860.50" cy="750.50" r="12.50" stroke="#A068A2"/>
<circle cx="911.50" cy="838.50" r="13.00" stroke="#A068A2"/>
<circle cx="296.50" cy="395.50" r="10.90" stroke="#E87884"/>
<circle cx="347.50" cy="483.50" r="10.50" stroke="#E87884"/>
<circle cx="398.50" cy="483.50" r="10.50" stroke="#E87884"/>
<circle cx="450.50" cy="483.50" r="10.80" stroke="#E87884"/>
<circle cx="501.50" cy="483.50" r="11.60" stroke="#E87884"/>
<circle cx="552.50" cy="483.50" r="12.50" stroke="#E87884"/>
<circle cx="603.50" cy="395.50" r="13.40" stroke="#E87884"/>
<circle cx="655.50" cy="395.50" r="13.50" stroke="#E87884"/>
<circle cx="706.50" cy="395.50" r="14.10" stroke="#E87884"/>
<circle cx="757.50" cy="395.50" r="14.20" stroke="#E87884"/>
<circle cx="808.50" cy="395.50" r="14.60" stroke="#E87884"/>
<circle cx="860.50" cy="483.50" r="14.50" stroke="#E87884"/>
<circle cx="911.50" cy="483.50" r="15.00" stroke="#E87884"/>
<circle cx="962.50" cy="395.50" r="15.60" stroke="#E87884"/>
<circle cx="296.50" cy="750.50" r="7.70" stroke="#F5B455"/>
<circle cx="347.50" cy="838.50" r="7.70" stroke="#F5B455"/>
<circle cx="501.50" cy="838.50" r="10.30" stroke="#F5B455"/>
<circle cx="706.50" cy="572.50" r="12.30" stroke="#F5B455"/>
<circle cx="757.50" cy="572.50" r="12.80" stroke="#F5B455"/>
<circle cx="808.50" cy="838.50" r="11.90" stroke="#F5B455"/>
<circle cx="860.50" cy="306.50" r="16.10" stroke="#F5B455"/>
<circle cx="911.50" cy="39.50" r="21.10" stroke="#F5B455"/>
<circle cx="962.50" cy="217.50" r="17.10" stroke="#F5B455"/>
<circle cx="296.50" cy="217.50" r="12.50" stroke="#8A69A1"/>
<circle cx="347.50" cy="128.50" r="13.00" stroke="#8A69A1"/>
<circle cx="398.50" cy="128.50" r="13.30" stroke="#8A69A1"/>
<circle cx="450.50" cy="217.50" r="13.90" stroke="#8A69A1"/>
<circle cx="501.50" cy="128.50" r="15.50" stroke="#8A69A1"/>
<circle cx="552.50" cy="128.50" r="15.50" stroke="#8A69A1"/>
<circle cx="603.50" cy="128.50" r="16.10" stroke="#8A69A1"/>
<circle cx="655.50" cy="217.50" r="15.60" stroke="#8A69A1"/>
<circle cx="706.50" cy="217.50" r="15.70" stroke="#8A69A1"/>
<circle cx="757.50" cy="217.50" r="15.70" stroke="#8A69A1"/>
<circle cx="808.50" cy="306.50" r="14.90" stroke="#8A69A1"/>
<circle cx="860.50" cy="128.50" r="17.40" stroke="#8A69A1"/>
<circle cx="911.50" cy="395.50" r="16.80" stroke="#8A69A1"/>
<circle cx="962.50" cy="483.50" r="15.70" stroke="#8A69A1"/>
<circle cx="398.50" cy="838.50" r="8.80" stroke="#E27189"/>
<circle cx="450.50" cy="838.50" r="10.10" stroke="#E27189"/>
<circle cx="501.50" cy="750.50" r="9.80" stroke="#E27189"/>
<circle cx="603.50" cy="750.50" r="11.20" stroke="#E27189"/>
<circle cx="655.50" cy="483.50" r="13.00" stroke="#E27189"/>
<circle cx="706.50" cy="661.50" r="12.30" stroke="#E27189"/>
<circle cx="757.50" cy="483.50" r="13.50" stroke="#E27189"/>
<circle cx="808.50" cy="483.50" r="13.40" stroke="#E27189"/>
<circle cx="860.50" cy="572.50" r="13.40" stroke="#E27189"/>
<circle cx="911.50" cy="572.50" r="14.20" stroke="#E27189"/>
<circle cx="962.50" cy="572.50" r="14.30" stroke="#E27189"/>
<circle cx="296.50" cy="483.50" r="10.30" stroke="#7E679E"/>
<circle cx="347.50" cy="306.50" r="11.70" stroke="#7E679E"/>
<circle cx="398.50" cy="306.50" r="11.90" stroke="#7E679E"/>
<circle cx="450.50" cy="306.50" r="12.50" stroke="#7E679E"/>
<circle cx="501.50" cy="306.50" r="12.80" stroke="#7E679E"/>
<circle cx="552.50" cy="395.50" r="13.90" stroke="#7E679E"/>
<circle cx="603.50" cy="306.50" r="13.90" stroke="#7E679E"/>
<circle cx="655.50" cy="306.50" r="14.20" stroke="#7E679E"/>
<circle cx="706.50" cy="306.50" r="14.90" stroke="#7E679E"/>
<circle cx="757.50" cy="306.50" r="14.90" stroke="#7E679E"/>
<circle cx="808.50" cy="217.50" r="15.40" stroke="#7E679E"/>
<circle cx="860.50" cy="395.50" r="15.80" stroke="#7E679E"/>
<circle cx="911.50" cy="217.50" r="17.10" stroke="#7E679E"/>
<circle cx="962.50" cy="306.50" r="16.60" stroke="#7E679E"/>
<circle cx="296.50" cy="306.50" r="11.20" stroke="#EC837F"/>
<circle cx="347.50" cy="395.50" r="11.40" stroke="#EC837F"/>
<circle cx="398.50" cy="395.50" r="11.40" stroke="#EC837F"/>
<circle cx="450.50" cy="395.50" r="11.90" stroke="#EC837F"/>
<circle cx="501.50" cy="572.50" r="10.90" stroke="#EC837F"/>
<circle cx="552.50" cy="572.50" r="12.30" stroke="#EC837F"/>
<circle cx="603.50" cy="572.50" r="12.00" stroke="#EC837F"/>
<circle cx="655.50" cy="572.50" r="12.00" stroke="#EC837F"/>
<circle cx="706.50" cy="750.50" r="11.60" stroke="#EC837F"/>
<circle cx="757.50" cy="661.50" r="13.10" stroke="#EC837F"/>
<circle cx="808.50" cy="661.50" r="12.70" stroke="#EC837F"/>
<circle cx="860.50" cy="661.50" r="13.10" stroke="#EC837F"/>
<circle cx="911.50" cy="661.50" r="13.60" stroke="#EC837F"/>
<circle cx="962.50" cy="661.50" r="14.10" stroke="#EC837F"/>
<circle cx="296.50" cy="572.50" r="9.10" stroke="#AD6A9E"/>
<circle cx="347.50" cy="572.50" r="9.50" stroke="#AD6A9E"/>
<circle cx="398.50" cy="750.50" r="8.40" stroke="#AD6A9E"/>
<circle cx="450.50" cy="661.50" r="9.80" stroke="#AD6A9E"/>
<circle cx="552.50" cy="661.50" r="12.00" stroke="#AD6A9E"/>
<circle cx="655.50" cy="838.50" r="11.40" stroke="#AD6A9E"/>
<circle cx="911.50" cy="750.50" r="13.60" stroke="#AD6A9E"/>
<circle cx="347.50" cy="750.50" r="8.40" stroke="#CE6C92"/>
<circle cx="398.50" cy="572.50" r="10.10" stroke="#CE6C92"/>
<circle cx="450.50" cy="572.50" r="10.20" stroke="#CE6C92"/>
<circle cx="501.50" cy="395.50" r="12.50" stroke="#CE6C92"/>
<circle cx="552.50" cy="306.50" r="14.20" stroke="#CE6C92"/>
<circle cx="603.50" cy="483.50" r="13.40" stroke="#CE6C92"/>
<circle cx="655.50" cy="661.50" r="12.00" stroke="#CE6C92"/>
<circle cx="706.50" cy="483.50" r="13.50" stroke="#CE6C92"/>
<circle cx="757.50" cy="750.50" r="12.30" stroke="#CE6C92"/>
<circle cx="808.50" cy="572.50" r="12.50" stroke="#CE6C92"/>
<circle cx="860.50" cy="838.50" r="12.50" stroke="#CE6C92"/>
<circle cx="296.50" cy="39.50" r="13.10" stroke="#EE8C78"/>
<circle cx="347.50" cy="39.50" r="13.90" stroke="#EE8C78"/>
<circle cx="398.50" cy="39.50" r="14.40" stroke="#EE8C78"/>
<circle cx="450.50" cy="39.50" r="15.20" stroke="#EE8C78"/>
<circle cx="501.50" cy="39.50" r="15.70" stroke="#EE8C78"/>
<circle cx="552.50" cy="39.50" r="16.10" stroke="#EE8C78"/>
<circle cx="603.50" cy="39.50" r="16.60" stroke="#EE8C78"/>
<circle cx="655.50" cy="39.50" r="16.90" stroke="#EE8C78"/>
<circle cx="706.50" cy="39.50" r="17.40" stroke="#EE8C78"/>
<circle cx="757.50" cy="39.50" r="18.00" stroke="#EE8C78"/>
<circle cx="808.50" cy="39.50" r="18.10" stroke="#EE8C78"/>
<circle cx="860.50" cy="39.50" r="19.40" stroke="#EE8C78"/>
<circle cx="911.50" cy="128.50" r="19.55" stroke="#EE8C78"/>
<circle cx="962.50" cy="39.50" r="20.00" stroke="#EE8C78"/>
<circle cx="296.50" cy="128.50" r="12.70" stroke="#B96B9A"/>
<circle cx="347.50" cy="217.50" r="12.50" stroke="#B96B9A"/>
<circle cx="398.50" cy="217.50" r="12.70" stroke="#B96B9A"/>
<circle cx="450.50" cy="128.50" r="14.40" stroke="#B96B9A"/>
<circle cx="501.50" cy="217.50" r="14.40" stroke="#B96B9A"/>
<circle cx="552.50" cy="217.50" r="15.10" stroke="#B96B9A"/>
<circle cx="603.50" cy="217.50" r="15.80" stroke="#B96B9A"/>
<circle cx="655.50" cy="128.50" r="16.00" stroke="#B96B9A"/>
<circle cx="706.50" cy="128.50" r="16.40" stroke="#B96B9A"/>
<circle cx="757.50" cy="128.50" r="16.40" stroke="#B96B9A"/>
<circle cx="808.50" cy="128.50" r="16.70" stroke="#B96B9A"/>
<circle cx="860.50" cy="217.50" r="16.70" stroke="#B96B9A"/>
<circle cx="911.50" cy="306.50" r="17.10" stroke="#B96B9A"/>
<circle cx="962.50" cy="128.50" r="17.60" stroke="#B96B9A"/>
<circle cx="296.50" cy="838.50" r="6.60" stroke="#F3AD52"/>
<circle cx="962.50" cy="750.50" r="13.20" stroke="#F3AD52"/>
</g>
<g shape-rendering="crispEdges" fill="#111" stroke="none">
<rect x="269" y="39" width="7" height="1"/>
<rect x="982" y="39" width="7" height="1"/>
<rect x="269" y="128" width="7" height="1"/>
<rect x="982" y="128" width="7" height="1"/>
<rect x="269" y="217" width="7" height="1"/>
<rect x="982" y="217" width="7" height="1"/>
<rect x="269" y="306" width="7" height="1"/>
<rect x="982" y="306" width="7" height="1"/>
<rect x="269" y="395" width="7" height="1"/>
<rect x="982" y="395" width="7" height="1"/>
<rect x="269" y="483" width="7" height="1"/>
<rect x="982" y="483" width="7" height="1"/>
<rect x="269" y="572" width="7" height="1"/>
<rect x="982" y="572" width="7" height="1"/>
<rect x="269" y="661" width="7" height="1"/>
<rect x="982" y="661" width="7" height="1"/>
<rect x="269" y="750" width="7" height="1"/>
<rect x="982" y="750" width="7" height="1"/>
<rect x="269" y="838" width="7" height="1"/>
<rect x="982" y="838" width="7" height="1"/>
<rect x="347" y="878" width="1" height="8"/>
<rect x="450" y="878" width="1" height="8"/>
<rect x="552" y="878" width="1" height="8"/>
<rect x="655" y="878" width="1" height="8"/>
<rect x="757" y="878" width="1" height="8"/>
<rect x="860" y="878" width="1" height="8"/>
<rect x="962" y="878" width="1" height="8"/>
</g>
<g font-family="'Liberation Sans', sans-serif" font-size="24.1px" fill="#000">
<text x="256.65" y="48.50" text-anchor="end" font-size="24.30px">Other fruit, fresh (0810)</text>
<text x="256.49" y="137.50" text-anchor="end" font-size="24.15px">Other veg., fresh (0709)</text>
<text x="256.64" y="226.50" text-anchor="end" font-size="23.97px">Crustaceans (0306)</text>
<text x="256.53" y="315.50" text-anchor="end" font-size="24.03px">Grapes (0806)</text>
<text x="256.70" y="404.50" text-anchor="end" font-size="24.20px">Citrus fruit (0805)</text>
<text x="256.68" y="492.50" text-anchor="end" font-size="24.31px">Fish fillets (0304)</text>
<text x="256.56" y="581.50" text-anchor="end" font-size="23.95px">Lettuce (0705)</text>
<text x="256.49" y="670.50" text-anchor="end" font-size="24.00px">Bananas (0803)</text>
<text x="256.49" y="759.50" text-anchor="end" font-size="23.88px">Corn (1005)</text>
<text x="256.57" y="847.50" text-anchor="end" font-size="23.69px">Rice (1006)</text>
<text x="1343.65" y="48.50" text-anchor="end" font-size="24.30px">Other fruit, fresh (0810)</text>
<text x="1343.49" y="137.50" text-anchor="end" font-size="24.15px">Other veg., fresh (0709)</text>
<text x="1343.49" y="226.50" text-anchor="end" font-size="23.88px">Corn (1005)</text>
<text x="1343.68" y="315.50" text-anchor="end" font-size="24.31px">Fish fillets (0304)</text>
<text x="1343.70" y="404.50" text-anchor="end" font-size="24.20px">Citrus fruit (0805)</text>
<text x="1343.64" y="492.50" text-anchor="end" font-size="23.97px">Crustaceans (0306)</text>
<text x="1343.51" y="581.50" text-anchor="end" font-size="24.07px">Dates, figs, &amp; other fruits (0804)</text>
<text x="1343.53" y="670.50" text-anchor="end" font-size="24.03px">Grapes (0806)</text>
<text x="1343.57" y="759.50" text-anchor="end" font-size="23.69px">Rice (1006)</text>
<text x="1343.49" y="847.50" text-anchor="end" font-size="24.00px">Bananas (0803)</text>
<text x="347.00" y="917.5" text-anchor="middle" font-size="24px">2011</text>
<text x="450.00" y="917.5" text-anchor="middle" font-size="24px">2013</text>
<text x="552.00" y="917.5" text-anchor="middle" font-size="24px">2015</text>
<text x="655.00" y="917.5" text-anchor="middle" font-size="24px">2017</text>
<text x="757.00" y="917.5" text-anchor="middle" font-size="24px">2019</text>
<text x="860.00" y="917.5" text-anchor="middle" font-size="24px">2021</text>
<text x="962.00" y="917.5" text-anchor="middle" font-size="24px">2023</text>
<text x="57.50" y="954.8" font-size="24.10px">Notes:</text>
<text x="133.30" y="954.8" font-size="24.10px">Data</text>
<text x="191.30" y="954.8" font-size="24.10px">from</text>
<text x="245.30" y="954.8" font-size="24.10px">Statistics</text>
<text x="347.70" y="954.8" font-size="24.10px">Canada,</text>
<text x="446.30" y="954.8" font-size="24.10px">customs,</text>
<text x="550.50" y="954.8" font-size="24.10px">not</text>
<text x="590.90" y="954.8" font-size="24.10px">seasonally</text>
<text x="712.90" y="954.8" font-size="24.60px">adjusted.</text>
</g>
</svg>
</body></html>
